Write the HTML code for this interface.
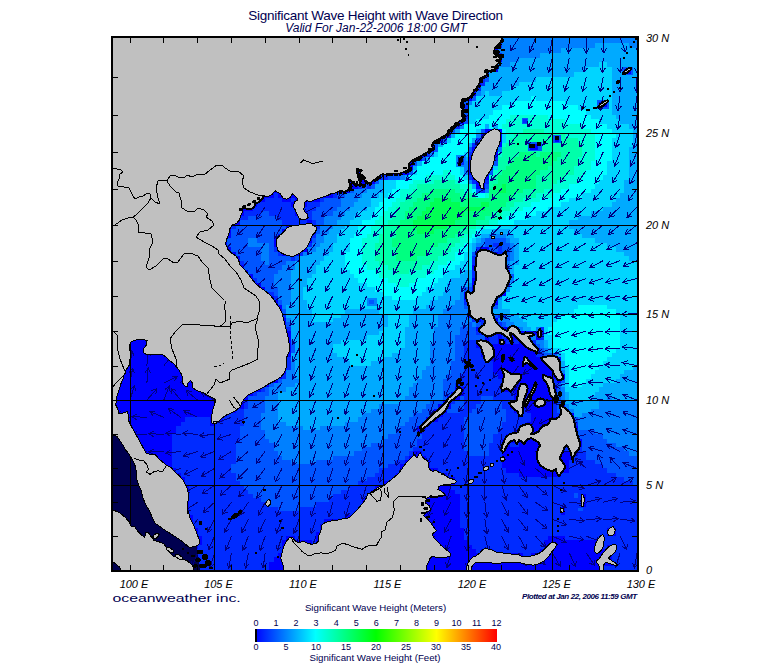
<!DOCTYPE html><html><head><meta charset="utf-8"><title>Significant Wave Height</title>
<style>html,body{margin:0;padding:0;background:#fff}svg{display:block}text{font-family:"Liberation Sans",sans-serif}</style></head><body>
<svg width="775" height="665" viewBox="0 0 775 665">
<rect width="775" height="665" fill="#fff"/>
<defs><clipPath id="mc"><rect x="113" y="38" width="524" height="532"/></clipPath></defs>
<g clip-path="url(#mc)" shape-rendering="crispEdges">
<rect x="113" y="38" width="524" height="532" fill="#0055ff"/>
<path d="M117,566h76v4h-76zM269,566h334v4h-334zM113,562h80v4h-80zM269,562h347v4h-347zM113,557h72v5h-72zM274,557h338v5h-338zM113,553h59v4h-59zM278,553h245v4h-245zM531,553h81v4h-81zM113,549h55v4h-55zM282,549h194v4h-194zM481,549h12v4h-12zM540,549h76v4h-76zM113,545h55v4h-55zM185,545h13v4h-13zM282,545h190v4h-190zM544,545h59v4h-59zM607,545h9v4h-9zM113,540h51v5h-51zM181,540h21v5h-21zM282,540h30v5h-30zM316,540h152v5h-152zM544,540h59v5h-59zM113,536h42v4h-42zM176,536h26v4h-26zM286,536h9v4h-9zM316,536h148v4h-148zM548,536h17v4h-17zM599,536h4v4h-4zM113,532h38v4h-38zM168,532h30v4h-30zM316,532h148v4h-148zM607,532h9v4h-9zM113,528h25v4h-25zM164,528h34v4h-34zM320,528h144v4h-144zM607,528h9v4h-9zM113,524h30v4h-30zM155,524h38v4h-38zM320,524h140v4h-140zM113,519h30v5h-30zM151,519h42v5h-42zM324,519h136v5h-136zM113,515h30v4h-30zM151,515h42v4h-42zM345,515h115v4h-115zM113,511h30v4h-30zM147,511h42v4h-42zM354,511h106v4h-106zM561,511h4v4h-4zM113,507h30v4h-30zM147,507h42v4h-42zM358,507h102v4h-102zM561,507h4v4h-4zM113,502h76v5h-76zM362,502h98v5h-98zM582,502h4v5h-4zM113,498h76v4h-76zM362,498h98v4h-98zM582,498h4v4h-4zM113,494h76v4h-76zM367,494h93v4h-93zM582,494h4v4h-4zM113,490h76v4h-76zM371,490h84v4h-84zM113,485h76v5h-76zM375,485h76v5h-76zM113,481h72v4h-72zM384,481h71v4h-71zM113,477h72v4h-72zM392,477h63v4h-63zM113,473h68v4h-68zM396,473h51v4h-51zM519,473h42v4h-42zM113,468h63v5h-63zM400,468h38v5h-38zM506,468h63v5h-63zM113,464h59v4h-59zM400,464h30v4h-30zM502,464h67v4h-67zM113,460h59v4h-59zM405,460h25v4h-25zM502,460h67v4h-67zM113,456h59v4h-59zM409,456h17v4h-17zM502,456h72v4h-72zM113,451h59v5h-59zM413,451h9v5h-9zM502,451h76v5h-76zM113,447h59v4h-59zM502,447h63v4h-63zM569,447h9v4h-9zM113,443h59v4h-59zM502,443h8v4h-8zM519,443h63v4h-63zM113,439h59v4h-59zM502,439h80v4h-80zM113,434h59v5h-59zM506,434h72v5h-72zM113,430h63v4h-63zM417,430h5v4h-5zM514,430h64v4h-64zM113,426h63v4h-63zM417,426h9v4h-9zM519,426h59v4h-59zM113,422h68v4h-68zM210,422h4v4h-4zM422,422h8v4h-8zM527,422h47v4h-47zM113,417h72v5h-72zM210,417h13v5h-13zM426,417h12v5h-12zM531,417h43v5h-43zM113,413h114v4h-114zM430,413h13v4h-13zM519,413h4v4h-4zM531,413h21v4h-21zM561,413h13v4h-13zM113,409h123v4h-123zM434,409h13v4h-13zM514,409h9v4h-9zM527,409h25v4h-25zM561,409h8v4h-8zM113,404h131v5h-131zM438,404h13v5h-13zM510,404h42v5h-42zM561,404h4v5h-4zM113,400h131v4h-131zM443,400h8v4h-8zM510,400h47v4h-47zM113,396h135v4h-135zM447,396h13v4h-13zM514,396h43v4h-43zM113,392h140v4h-140zM451,392h13v4h-13zM514,392h43v4h-43zM113,387h148v5h-148zM455,387h9v5h-9zM502,387h55v5h-55zM113,383h156v4h-156zM502,383h50v4h-50zM113,379h165v4h-165zM502,379h50v4h-50zM557,379h4v4h-4zM113,374h169v5h-169zM498,374h67v5h-67zM113,370h173v4h-173zM493,370h68v4h-68zM113,366h173v4h-173zM493,366h68v4h-68zM113,361h173v5h-173zM493,361h68v5h-68zM113,357h173v4h-173zM485,357h76v4h-76zM113,353h178v4h-178zM481,353h55v4h-55zM113,348h178v5h-178zM481,348h59v5h-59zM113,344h178v4h-178zM476,344h60v4h-60zM113,340h178v4h-178zM476,340h13v4h-13zM498,340h8v4h-8zM510,340h4v4h-4zM519,340h12v4h-12zM113,335h178v5h-178zM485,335h4v5h-4zM498,335h4v5h-4zM506,335h25v5h-25zM536,335h4v5h-4zM113,331h178v4h-178zM481,331h63v4h-63zM113,327h173v4h-173zM476,327h43v4h-43zM113,322h173v5h-173zM485,322h13v5h-13zM113,318h173v4h-173zM476,318h5v4h-5zM485,318h13v4h-13zM113,314h169v4h-169zM468,314h25v4h-25zM113,309h169v5h-169zM468,309h25v5h-25zM113,305h169v4h-169zM468,305h25v4h-25zM113,300h165v5h-165zM468,300h30v5h-30zM113,296h161v4h-161zM464,296h34v4h-34zM113,292h156v4h-156zM464,292h42v4h-42zM113,287h152v5h-152zM472,287h34v5h-34zM113,283h148v4h-148zM472,283h34v4h-34zM113,278h140v5h-140zM472,278h38v5h-38zM113,274h140v4h-140zM476,274h34v4h-34zM113,270h135v4h-135zM476,270h34v4h-34zM113,265h131v5h-131zM472,265h34v5h-34zM113,261h127v4h-127zM476,261h30v4h-30zM113,256h127v5h-127zM476,256h30v5h-30zM113,252h123v4h-123zM282,252h17v4h-17zM476,252h22v4h-22zM502,252h4v4h-4zM113,247h118v5h-118zM278,247h29v5h-29zM481,247h8v5h-8zM113,243h114v4h-114zM274,243h33v4h-33zM113,238h114v5h-114zM274,238h38v5h-38zM113,234h118v4h-118zM278,234h34v4h-34zM113,229h118v5h-118zM282,229h34v5h-34zM113,225h118v4h-118zM286,225h30v4h-30zM113,220h127v5h-127zM307,220h5v5h-5zM113,216h127v4h-127zM299,216h8v4h-8zM113,211h131v5h-131zM295,211h12v5h-12zM113,207h140v4h-140zM295,207h8v4h-8zM113,202h144v5h-144zM291,202h16v5h-16zM113,198h152v4h-152zM282,198h9v4h-9zM295,198h25v4h-25zM113,193h161v5h-161zM278,193h55v5h-55zM113,189h237v4h-237zM113,184h245v5h-245zM476,184h9v5h-9zM113,180h262v4h-262zM476,180h9v4h-9zM113,175h266v5h-266zM472,175h17v5h-17zM113,170h296v5h-296zM468,170h21v5h-21zM113,166h300v4h-300zM468,166h25v4h-25zM113,161h300v5h-300zM468,161h25v5h-25zM113,157h309v4h-309zM468,157h25v4h-25zM113,152h313v5h-313zM472,152h26v5h-26zM113,147h321v5h-321zM472,147h26v5h-26zM113,143h321v4h-321zM476,143h26v4h-26zM113,138h330v5h-330zM481,138h21v5h-21zM113,133h334v5h-334zM481,133h21v5h-21zM113,129h338v4h-338zM485,129h17v4h-17zM113,124h342v5h-342zM113,119h351v5h-351zM113,115h351v4h-351zM113,110h351v5h-351zM113,105h351v5h-351zM113,101h351v4h-351zM113,96h359v5h-359zM113,91h363v5h-363zM113,86h363v5h-363zM113,82h368v4h-368zM113,77h368v5h-368zM113,72h376v5h-376zM113,67h385v5h-385zM113,62h385v5h-385zM113,58h389v4h-389zM113,53h385v5h-385zM113,48h385v5h-385zM113,43h385v5h-385zM113,38h389v5h-389z" fill="#0000ff"/>
<path d="M113,566h4v4h-4zM193,566h76v4h-76zM603,566h34v4h-34zM193,562h76v4h-76zM616,562h21v4h-21zM185,557h89v5h-89zM612,557h25v5h-25zM172,553h106v4h-106zM523,553h8v4h-8zM612,553h25v4h-25zM168,549h114v4h-114zM476,549h5v4h-5zM493,549h47v4h-47zM616,549h21v4h-21zM168,545h17v4h-17zM198,545h84v4h-84zM472,545h72v4h-72zM603,545h4v4h-4zM616,545h21v4h-21zM164,540h17v5h-17zM202,540h80v5h-80zM312,540h4v5h-4zM468,540h76v5h-76zM603,540h34v5h-34zM155,536h21v4h-21zM202,536h84v4h-84zM295,536h21v4h-21zM464,536h84v4h-84zM565,536h34v4h-34zM603,536h34v4h-34zM151,532h17v4h-17zM198,532h118v4h-118zM464,532h143v4h-143zM616,532h21v4h-21zM138,528h26v4h-26zM198,528h122v4h-122zM464,528h143v4h-143zM616,528h21v4h-21zM143,524h12v4h-12zM193,524h127v4h-127zM460,524h177v4h-177zM143,519h8v5h-8zM193,519h131v5h-131zM460,519h177v5h-177zM143,515h8v4h-8zM193,515h152v4h-152zM460,515h177v4h-177zM143,511h4v4h-4zM189,511h165v4h-165zM460,511h101v4h-101zM565,511h72v4h-72zM143,507h4v4h-4zM189,507h89v4h-89zM299,507h59v4h-59zM460,507h101v4h-101zM565,507h72v4h-72zM189,502h80v5h-80zM316,502h46v5h-46zM460,502h122v5h-122zM586,502h51v5h-51zM189,498h72v4h-72zM329,498h33v4h-33zM460,498h122v4h-122zM586,498h51v4h-51zM189,494h64v4h-64zM333,494h34v4h-34zM460,494h122v4h-122zM586,494h51v4h-51zM189,490h59v4h-59zM341,490h30v4h-30zM455,490h182v4h-182zM189,485h55v5h-55zM350,485h25v5h-25zM451,485h186v5h-186zM185,481h55v4h-55zM358,481h26v4h-26zM455,481h178v4h-178zM185,477h51v4h-51zM367,477h25v4h-25zM455,477h169v4h-169zM181,473h55v4h-55zM375,473h21v4h-21zM447,473h72v4h-72zM561,473h55v4h-55zM176,468h55v5h-55zM379,468h21v5h-21zM438,468h68v5h-68zM569,468h38v5h-38zM172,464h59v4h-59zM388,464h12v4h-12zM430,464h72v4h-72zM569,464h34v4h-34zM172,460h64v4h-64zM396,460h9v4h-9zM430,460h72v4h-72zM569,460h26v4h-26zM172,456h64v4h-64zM405,456h4v4h-4zM426,456h76v4h-76zM574,456h12v4h-12zM172,451h64v5h-64zM409,451h4v5h-4zM422,451h46v5h-46zM489,451h13v5h-13zM578,451h8v5h-8zM172,447h64v4h-64zM413,447h51v4h-51zM489,447h13v4h-13zM565,447h4v4h-4zM578,447h4v4h-4zM172,443h64v4h-64zM417,443h47v4h-47zM489,443h13v4h-13zM510,443h9v4h-9zM172,439h68v4h-68zM417,439h47v4h-47zM493,439h9v4h-9zM172,434h68v5h-68zM422,434h42v5h-42zM493,434h13v5h-13zM176,430h64v4h-64zM422,430h42v4h-42zM498,430h16v4h-16zM176,426h64v4h-64zM426,426h38v4h-38zM502,426h17v4h-17zM181,422h29v4h-29zM214,422h30v4h-30zM430,422h34v4h-34zM502,422h25v4h-25zM574,422h4v4h-4zM185,417h25v5h-25zM223,417h21v5h-21zM438,417h26v5h-26zM506,417h25v5h-25zM227,413h17v4h-17zM443,413h25v4h-25zM506,413h13v4h-13zM523,413h8v4h-8zM552,413h9v4h-9zM236,409h8v4h-8zM460,409h12v4h-12zM506,409h8v4h-8zM523,409h4v4h-4zM552,409h5v4h-5zM244,404h4v5h-4zM464,404h12v5h-12zM502,404h8v5h-8zM552,404h5v5h-5zM244,400h4v4h-4zM451,400h4v4h-4zM464,400h17v4h-17zM502,400h8v4h-8zM464,396h17v4h-17zM493,396h21v4h-21zM253,392h4v4h-4zM464,392h50v4h-50zM261,387h4v5h-4zM464,387h38v5h-38zM455,383h47v4h-47zM552,383h5v4h-5zM460,379h42v4h-42zM552,379h5v4h-5zM282,374h4v5h-4zM460,374h38v5h-38zM464,370h29v4h-29zM286,366h5v4h-5zM464,366h29v4h-29zM286,361h5v5h-5zM464,361h29v5h-29zM286,357h5v4h-5zM464,357h21v4h-21zM464,353h17v4h-17zM536,353h8v4h-8zM464,348h17v5h-17zM464,344h12v4h-12zM468,340h8v4h-8zM489,340h9v4h-9zM506,340h4v4h-4zM514,340h5v4h-5zM531,340h5v4h-5zM489,335h9v5h-9zM502,335h4v5h-4zM540,335h4v5h-4zM476,331h5v4h-5zM286,327h5v4h-5zM540,327h4v4h-4zM481,322h4v5h-4zM498,322h4v5h-4zM472,318h4v4h-4zM481,318h4v4h-4zM282,314h4v4h-4zM498,314h8v4h-8zM464,300h4v5h-4zM274,296h4v4h-4zM269,292h5v4h-5zM506,283h4v4h-4zM253,278h4v5h-4zM472,274h4v4h-4zM472,270h4v4h-4zM240,261h4v4h-4zM472,261h4v4h-4zM291,256h4v5h-4zM472,256h4v5h-4zM278,252h4v4h-4zM299,252h4v4h-4zM498,252h4v4h-4zM274,247h4v5h-4zM476,247h5v5h-5zM498,247h4v5h-4zM307,243h5v4h-5zM493,243h9v4h-9zM312,234h4v4h-4zM231,225h5v4h-5zM316,225h4v4h-4zM282,220h25v5h-25zM312,220h4v5h-4zM240,216h8v4h-8zM278,216h21v4h-21zM307,216h5v4h-5zM244,211h17v5h-17zM269,211h26v5h-26zM307,211h5v5h-5zM253,207h42v4h-42zM303,207h13v4h-13zM257,202h34v5h-34zM307,202h13v5h-13zM265,198h17v4h-17zM291,198h4v4h-4zM320,198h4v4h-4zM274,193h4v5h-4zM333,193h4v5h-4zM481,189h4v4h-4zM358,184h4v5h-4zM367,184h4v5h-4zM472,180h4v4h-4zM485,180h4v4h-4zM379,175h9v5h-9zM468,175h4v5h-4zM493,157h5v4h-5zM426,152h4v5h-4zM468,152h4v5h-4zM472,143h4v4h-4zM476,138h5v5h-5zM447,133h4v5h-4zM455,124h5v5h-5zM464,115h4v4h-4zM464,105h4v5h-4zM476,86h5v5h-5zM481,82h4v4h-4zM481,77h4v5h-4zM498,53h4v5h-4zM498,43h4v5h-4z" fill="#002bff"/>
<path d="M278,507h21v4h-21zM269,502h47v5h-47zM261,498h68v4h-68zM253,494h80v4h-80zM248,490h93v4h-93zM244,485h106v5h-106zM240,481h118v4h-118zM633,481h4v4h-4zM236,477h131v4h-131zM624,477h13v4h-13zM236,473h139v4h-139zM616,473h21v4h-21zM231,468h148v5h-148zM607,468h30v5h-30zM231,464h157v4h-157zM603,464h34v4h-34zM236,460h55v4h-55zM316,460h80v4h-80zM595,460h42v4h-42zM236,456h46v4h-46zM333,456h72v4h-72zM586,456h51v4h-51zM236,451h42v5h-42zM354,451h55v5h-55zM468,451h21v5h-21zM586,451h43v5h-43zM236,447h38v4h-38zM362,447h51v4h-51zM464,447h25v4h-25zM582,447h42v4h-42zM236,443h38v4h-38zM371,443h46v4h-46zM464,443h25v4h-25zM582,443h34v4h-34zM240,439h29v4h-29zM384,439h33v4h-33zM464,439h29v4h-29zM582,439h25v4h-25zM240,434h25v5h-25zM388,434h34v5h-34zM464,434h29v5h-29zM578,434h25v5h-25zM240,430h25v4h-25zM396,430h21v4h-21zM464,430h34v4h-34zM578,430h17v4h-17zM240,426h21v4h-21zM400,426h17v4h-17zM464,426h38v4h-38zM244,422h17v4h-17zM405,422h17v4h-17zM464,422h38v4h-38zM244,417h17v5h-17zM409,417h17v5h-17zM464,417h42v5h-42zM574,417h4v5h-4zM244,413h17v4h-17zM413,413h17v4h-17zM468,413h38v4h-38zM244,409h21v4h-21zM422,409h12v4h-12zM447,409h13v4h-13zM472,409h34v4h-34zM557,409h4v4h-4zM248,404h17v5h-17zM426,404h12v5h-12zM451,404h13v5h-13zM476,404h26v5h-26zM557,404h4v5h-4zM248,400h17v4h-17zM430,400h13v4h-13zM455,400h9v4h-9zM481,400h21v4h-21zM557,400h4v4h-4zM248,396h17v4h-17zM443,396h4v4h-4zM460,396h4v4h-4zM481,396h12v4h-12zM557,396h4v4h-4zM257,392h12v4h-12zM443,392h8v4h-8zM557,392h4v4h-4zM265,387h4v5h-4zM443,387h12v5h-12zM557,387h4v5h-4zM269,383h5v4h-5zM443,383h12v4h-12zM557,383h4v4h-4zM278,379h4v4h-4zM443,379h17v4h-17zM561,379h4v4h-4zM447,374h13v5h-13zM451,370h13v4h-13zM451,366h13v4h-13zM451,361h13v5h-13zM455,357h9v4h-9zM455,353h9v4h-9zM544,353h13v4h-13zM291,348h4v5h-4zM455,348h9v5h-9zM540,348h4v5h-4zM291,344h4v4h-4zM455,344h9v4h-9zM536,344h4v4h-4zM455,340h13v4h-13zM455,335h30v5h-30zM460,331h16v4h-16zM460,327h16v4h-16zM286,322h5v5h-5zM468,322h4v5h-4zM476,322h5v5h-5zM502,322h4v5h-4zM493,314h5v4h-5zM282,309h4v5h-4zM464,305h4v4h-4zM493,305h5v4h-5zM278,300h4v5h-4zM274,292h4v4h-4zM265,287h13v5h-13zM464,287h8v5h-8zM261,283h13v4h-13zM257,278h17v5h-17zM253,274h21v4h-21zM510,274h4v4h-4zM248,270h30v4h-30zM244,265h38v5h-38zM244,261h21v4h-21zM269,261h17v4h-17zM240,256h21v5h-21zM269,256h22v5h-22zM295,256h4v5h-4zM506,256h4v5h-4zM236,252h25v4h-25zM269,252h9v4h-9zM472,252h4v4h-4zM506,252h4v4h-4zM231,247h30v5h-30zM269,247h5v5h-5zM489,247h9v5h-9zM502,247h8v5h-8zM227,243h21v4h-21zM269,243h5v4h-5zM485,243h8v4h-8zM502,243h8v4h-8zM227,238h21v5h-21zM257,238h17v5h-17zM312,238h4v5h-4zM485,238h21v5h-21zM231,234h47v4h-47zM231,229h51v5h-51zM316,229h4v5h-4zM236,225h50v4h-50zM240,220h42v5h-42zM316,220h8v5h-8zM248,216h30v4h-30zM312,216h12v4h-12zM261,211h8v5h-8zM312,211h21v5h-21zM316,207h21v4h-21zM320,202h21v5h-21zM324,198h17v4h-17zM337,193h8v5h-8zM350,189h4v4h-4zM476,189h5v4h-5zM362,184h5v5h-5zM371,184h4v5h-4zM485,184h4v5h-4zM375,180h4v4h-4zM388,175h12v5h-12zM409,170h4v5h-4zM489,170h4v5h-4zM413,161h4v5h-4zM493,161h5v5h-5zM422,157h4v4h-4zM434,147h4v5h-4zM468,147h4v5h-4zM434,143h4v4h-4zM443,138h4v5h-4zM451,129h4v4h-4zM481,129h4v4h-4zM464,119h4v5h-4zM464,110h4v5h-4zM464,101h4v4h-4zM472,96h4v5h-4zM485,77h4v5h-4z" fill="#0055ff"/>
<path d="M291,460h25v4h-25zM282,456h51v4h-51zM278,451h76v5h-76zM629,451h8v5h-8zM274,447h88v4h-88zM624,447h13v4h-13zM274,443h97v4h-97zM616,443h21v4h-21zM269,439h115v4h-115zM607,439h30v4h-30zM265,434h123v5h-123zM603,434h34v5h-34zM265,430h131v4h-131zM595,430h42v4h-42zM261,426h42v4h-42zM320,426h80v4h-80zM578,426h59v4h-59zM261,422h25v4h-25zM345,422h60v4h-60zM578,422h59v4h-59zM261,417h17v5h-17zM358,417h51v5h-51zM578,417h59v5h-59zM261,413h17v4h-17zM362,413h51v4h-51zM582,413h55v4h-55zM265,409h13v4h-13zM371,409h51v4h-51zM569,409h5v4h-5zM591,409h46v4h-46zM265,404h13v5h-13zM379,404h47v5h-47zM565,404h4v5h-4zM599,404h38v5h-38zM265,400h13v4h-13zM400,400h30v4h-30zM561,400h4v4h-4zM599,400h38v4h-38zM265,396h13v4h-13zM405,396h38v4h-38zM561,396h4v4h-4zM607,396h5v4h-5zM269,392h9v4h-9zM409,392h34v4h-34zM561,392h4v4h-4zM269,387h17v5h-17zM409,387h34v5h-34zM561,387h4v5h-4zM274,383h21v4h-21zM413,383h30v4h-30zM282,379h17v4h-17zM417,379h26v4h-26zM286,374h9v5h-9zM422,374h25v5h-25zM286,370h9v4h-9zM422,370h29v4h-29zM561,370h4v4h-4zM291,366h4v4h-4zM426,366h25v4h-25zM291,361h4v5h-4zM430,361h21v5h-21zM430,357h25v4h-25zM430,353h25v4h-25zM430,348h25v5h-25zM544,348h4v5h-4zM430,344h25v4h-25zM540,344h4v4h-4zM291,340h4v4h-4zM434,340h21v4h-21zM536,340h8v4h-8zM434,335h21v5h-21zM531,335h5v5h-5zM434,331h26v4h-26zM434,327h26v4h-26zM519,327h4v4h-4zM536,327h4v4h-4zM438,322h30v5h-30zM472,322h4v5h-4zM506,322h8v5h-8zM286,318h5v4h-5zM438,318h34v4h-34zM498,318h12v4h-12zM438,314h30v4h-30zM443,309h25v5h-25zM282,305h4v4h-4zM451,305h13v4h-13zM282,300h9v5h-9zM455,300h9v5h-9zM278,296h13v4h-13zM460,296h4v4h-4zM498,296h4v4h-4zM278,292h13v4h-13zM460,292h4v4h-4zM278,287h13v5h-13zM506,287h4v5h-4zM274,283h17v4h-17zM468,283h4v4h-4zM274,278h17v5h-17zM510,278h4v5h-4zM274,274h17v4h-17zM278,270h13v4h-13zM282,265h13v5h-13zM506,265h4v5h-4zM265,261h4v4h-4zM286,261h9v4h-9zM506,261h4v4h-4zM261,256h8v5h-8zM510,256h4v5h-4zM261,252h8v4h-8zM303,252h4v4h-4zM510,252h4v4h-4zM261,247h8v5h-8zM307,247h9v5h-9zM510,247h4v5h-4zM248,243h21v4h-21zM312,243h8v4h-8zM476,243h9v4h-9zM510,243h4v4h-4zM248,238h9v5h-9zM316,238h8v5h-8zM481,238h4v5h-4zM506,238h4v5h-4zM316,234h8v4h-8zM489,234h17v4h-17zM320,229h9v5h-9zM320,225h13v4h-13zM324,220h13v5h-13zM324,216h17v4h-17zM333,211h12v5h-12zM337,207h13v4h-13zM341,202h13v5h-13zM341,198h17v4h-17zM345,193h17v5h-17zM354,189h13v4h-13zM485,189h4v4h-4zM468,180h4v4h-4zM400,175h5v5h-5zM464,170h4v5h-4zM464,166h4v4h-4zM464,161h4v5h-4zM430,152h4v5h-4zM498,147h4v5h-4zM476,133h5v5h-5zM460,124h4v5h-4zM468,101h4v4h-4zM476,91h5v5h-5zM498,62h12v5h-12zM502,58h17v4h-17zM502,53h38v5h-38zM498,48h63v5h-63zM502,43h93v5h-93zM629,43h8v5h-8zM502,38h135v5h-135z" fill="#0080ff"/>
<path d="M303,426h17v4h-17zM286,422h59v4h-59zM278,417h80v5h-80zM278,413h84v4h-84zM574,413h8v4h-8zM278,409h93v4h-93zM574,409h17v4h-17zM278,404h101v5h-101zM569,404h30v5h-30zM278,400h122v4h-122zM565,400h34v4h-34zM278,396h127v4h-127zM565,396h4v4h-4zM591,396h16v4h-16zM612,396h25v4h-25zM278,392h131v4h-131zM565,392h4v4h-4zM595,392h42v4h-42zM286,387h123v5h-123zM599,387h38v5h-38zM295,383h118v4h-118zM561,383h4v4h-4zM603,383h34v4h-34zM299,379h118v4h-118zM616,379h21v4h-21zM295,374h127v5h-127zM620,374h17v5h-17zM295,370h127v4h-127zM624,370h13v4h-13zM295,366h131v4h-131zM561,366h4v4h-4zM633,366h4v4h-4zM295,361h55v5h-55zM371,361h59v5h-59zM561,361h4v5h-4zM291,357h54v4h-54zM384,357h46v4h-46zM291,353h46v4h-46zM392,353h38v4h-38zM557,353h4v4h-4zM295,348h38v5h-38zM400,348h30v5h-30zM548,348h4v5h-4zM295,344h38v4h-38zM405,344h25v4h-25zM544,344h4v4h-4zM295,340h46v4h-46zM405,340h29v4h-29zM544,340h4v4h-4zM291,335h76v5h-76zM405,335h29v5h-29zM291,331h88v4h-88zM405,331h29v4h-29zM291,327h93v4h-93zM405,327h29v4h-29zM523,327h8v4h-8zM291,322h97v5h-97zM409,322h29v5h-29zM514,322h13v5h-13zM291,318h21v4h-21zM333,318h55v4h-55zM409,318h29v4h-29zM510,318h13v4h-13zM286,314h26v4h-26zM341,314h47v4h-47zM409,314h29v4h-29zM506,314h13v4h-13zM286,309h26v5h-26zM345,309h34v5h-34zM413,309h30v5h-30zM493,309h17v5h-17zM286,305h21v4h-21zM426,305h25v4h-25zM498,305h4v4h-4zM291,300h16v5h-16zM430,300h25v5h-25zM498,300h4v5h-4zM291,296h12v4h-12zM438,296h22v4h-22zM291,292h12v4h-12zM443,292h17v4h-17zM291,287h12v5h-12zM447,287h17v5h-17zM291,283h16v4h-16zM447,283h21v4h-21zM291,278h16v5h-16zM451,278h21v5h-21zM291,274h21v4h-21zM460,274h12v4h-12zM291,270h25v4h-25zM464,270h8v4h-8zM510,270h4v4h-4zM295,265h21v5h-21zM510,265h4v5h-4zM295,261h25v4h-25zM510,261h9v4h-9zM299,256h25v5h-25zM514,256h5v5h-5zM629,256h8v5h-8zM307,252h22v4h-22zM514,252h5v4h-5zM624,252h13v4h-13zM316,247h17v5h-17zM472,247h4v5h-4zM514,247h5v5h-5zM616,247h21v5h-21zM320,243h13v4h-13zM472,243h4v4h-4zM514,243h5v4h-5zM607,243h30v4h-30zM324,238h13v5h-13zM476,238h5v5h-5zM510,238h9v5h-9zM595,238h42v5h-42zM324,234h13v4h-13zM481,234h8v4h-8zM506,234h8v4h-8zM582,234h55v4h-55zM329,229h12v5h-12zM493,229h17v5h-17zM574,229h63v5h-63zM333,225h12v4h-12zM569,225h68v4h-68zM337,220h13v5h-13zM569,220h68v5h-68zM341,216h13v4h-13zM578,216h59v4h-59zM345,211h13v5h-13zM591,211h46v5h-46zM350,207h17v4h-17zM603,207h34v4h-34zM354,202h17v5h-17zM612,202h25v5h-25zM358,198h13v4h-13zM616,198h21v4h-21zM362,193h17v5h-17zM620,193h17v5h-17zM367,189h17v4h-17zM624,189h13v4h-13zM375,184h9v5h-9zM472,184h4v5h-4zM624,184h13v5h-13zM379,180h5v4h-5zM624,180h13v4h-13zM405,175h4v5h-4zM629,175h8v5h-8zM629,170h8v5h-8zM413,166h4v4h-4zM629,166h8v4h-8zM417,161h5v5h-5zM629,161h8v5h-8zM426,157h4v4h-4zM464,157h4v4h-4zM629,157h8v4h-8zM629,152h8v5h-8zM629,147h8v5h-8zM438,143h5v4h-5zM468,143h4v4h-4zM633,143h4v4h-4zM472,138h4v5h-4zM633,138h4v5h-4zM451,133h4v5h-4zM633,133h4v5h-4zM455,129h5v4h-5zM633,129h4v4h-4zM485,124h4v5h-4zM493,124h5v5h-5zM629,124h8v5h-8zM620,119h17v5h-17zM616,115h21v4h-21zM612,110h25v5h-25zM612,105h25v5h-25zM612,101h25v4h-25zM612,96h25v5h-25zM481,91h4v5h-4zM489,91h13v5h-13zM612,91h25v5h-25zM481,86h29v5h-29zM612,86h25v5h-25zM485,82h34v4h-34zM612,82h25v4h-25zM489,77h47v5h-47zM612,77h25v5h-25zM489,72h85v5h-85zM612,72h25v5h-25zM498,67h88v5h-88zM612,67h25v5h-25zM510,62h89v5h-89zM607,62h30v5h-30zM519,58h118v4h-118zM540,53h97v5h-97zM561,48h76v5h-76zM595,43h34v5h-34z" fill="#00aaff"/>
<path d="M569,396h22v4h-22zM569,392h26v4h-26zM565,387h34v5h-34zM565,383h4v4h-4zM582,383h21v4h-21zM565,379h4v4h-4zM586,379h30v4h-30zM565,374h4v5h-4zM591,374h29v5h-29zM565,370h4v4h-4zM595,370h29v4h-29zM565,366h4v4h-4zM599,366h34v4h-34zM350,361h21v5h-21zM603,361h34v5h-34zM345,357h39v4h-39zM561,357h4v4h-4zM607,357h30v4h-30zM337,353h55v4h-55zM561,353h4v4h-4zM612,353h25v4h-25zM333,348h67v5h-67zM552,348h9v5h-9zM616,348h21v5h-21zM333,344h72v4h-72zM548,344h4v4h-4zM620,344h17v4h-17zM341,340h64v4h-64zM548,340h4v4h-4zM620,340h17v4h-17zM367,335h38v5h-38zM544,335h8v5h-8zM620,335h17v5h-17zM379,331h26v4h-26zM544,331h4v4h-4zM620,331h17v4h-17zM384,327h21v4h-21zM531,327h5v4h-5zM544,327h4v4h-4zM620,327h17v4h-17zM388,322h21v5h-21zM527,322h25v5h-25zM620,322h17v5h-17zM312,318h21v4h-21zM388,318h21v4h-21zM523,318h34v4h-34zM620,318h17v4h-17zM312,314h29v4h-29zM388,314h21v4h-21zM519,314h42v4h-42zM620,314h17v4h-17zM312,309h33v5h-33zM379,309h34v5h-34zM510,309h64v5h-64zM616,309h21v5h-21zM307,305h119v4h-119zM502,305h76v4h-76zM607,305h30v4h-30zM307,300h123v5h-123zM502,300h135v5h-135zM303,296h89v4h-89zM417,296h21v4h-21zM502,296h135v4h-135zM303,292h81v4h-81zM422,292h21v4h-21zM506,292h131v4h-131zM303,287h72v5h-72zM426,287h21v5h-21zM510,287h127v5h-127zM307,283h60v4h-60zM434,283h13v4h-13zM510,283h127v4h-127zM307,278h51v5h-51zM438,278h13v5h-13zM514,278h123v5h-123zM312,274h42v4h-42zM443,274h17v4h-17zM514,274h123v4h-123zM316,270h34v4h-34zM447,270h17v4h-17zM514,270h123v4h-123zM316,265h29v5h-29zM455,265h17v5h-17zM514,265h123v5h-123zM320,261h25v4h-25zM460,261h12v4h-12zM519,261h118v4h-118zM324,256h21v5h-21zM464,256h8v5h-8zM519,256h110v5h-110zM329,252h16v4h-16zM464,252h8v4h-8zM519,252h105v4h-105zM333,247h17v5h-17zM468,247h4v5h-4zM519,247h97v5h-97zM333,243h17v4h-17zM468,243h4v4h-4zM519,243h88v4h-88zM337,238h13v5h-13zM472,238h4v5h-4zM519,238h76v5h-76zM337,234h17v4h-17zM476,234h5v4h-5zM514,234h68v4h-68zM341,229h17v5h-17zM481,229h12v5h-12zM510,229h64v5h-64zM345,225h13v4h-13zM498,225h71v4h-71zM350,220h12v5h-12zM514,220h55v5h-55zM354,216h17v4h-17zM527,216h51v4h-51zM358,211h17v5h-17zM536,211h55v5h-55zM367,207h8v4h-8zM548,207h55v4h-55zM371,202h8v5h-8zM561,202h51v5h-51zM371,198h13v4h-13zM569,198h47v4h-47zM379,193h9v5h-9zM582,193h38v5h-38zM384,189h8v4h-8zM591,189h33v4h-33zM384,184h12v5h-12zM595,184h29v5h-29zM384,180h12v4h-12zM599,180h25v4h-25zM464,175h4v5h-4zM603,175h26v5h-26zM413,170h4v5h-4zM460,170h4v5h-4zM607,170h22v5h-22zM460,166h4v4h-4zM493,166h5v4h-5zM607,166h22v4h-22zM460,161h4v5h-4zM607,161h22v5h-22zM612,157h17v4h-17zM434,152h4v5h-4zM464,152h4v5h-4zM612,152h17v5h-17zM612,147h17v5h-17zM612,143h21v4h-21zM447,138h4v5h-4zM502,138h4v5h-4zM612,138h21v5h-21zM502,133h4v5h-4zM616,133h17v5h-17zM476,129h5v4h-5zM612,129h21v4h-21zM607,124h22v5h-22zM468,119h8v5h-8zM599,119h21v5h-21zM468,115h21v4h-21zM591,115h25v4h-25zM468,110h25v5h-25zM586,110h26v5h-26zM468,105h34v5h-34zM578,105h34v5h-34zM472,101h42v4h-42zM565,101h47v4h-47zM476,96h55v5h-55zM536,96h76v5h-76zM485,91h4v5h-4zM502,91h110v5h-110zM510,86h102v5h-102zM519,82h93v4h-93zM536,77h76v5h-76zM574,72h38v5h-38zM586,67h26v5h-26zM599,62h8v5h-8z" fill="#00d5ff"/>
<path d="M569,383h13v4h-13zM569,379h17v4h-17zM569,374h22v5h-22zM569,370h26v4h-26zM569,366h30v4h-30zM565,361h38v5h-38zM565,357h42v4h-42zM565,353h47v4h-47zM561,348h55v5h-55zM552,344h68v4h-68zM552,340h68v4h-68zM552,335h68v5h-68zM548,331h72v4h-72zM548,327h72v4h-72zM552,322h68v5h-68zM557,318h63v4h-63zM561,314h59v4h-59zM574,309h42v5h-42zM578,305h29v4h-29zM392,296h25v4h-25zM384,292h38v4h-38zM375,287h51v5h-51zM367,283h29v4h-29zM409,283h25v4h-25zM358,278h30v5h-30zM417,278h21v5h-21zM354,274h25v4h-25zM426,274h17v4h-17zM350,270h25v4h-25zM434,270h13v4h-13zM345,265h22v5h-22zM438,265h17v5h-17zM345,261h17v4h-17zM447,261h13v4h-13zM345,256h17v5h-17zM455,256h9v5h-9zM345,252h17v4h-17zM455,252h9v4h-9zM350,247h12v5h-12zM460,247h8v5h-8zM350,243h12v4h-12zM464,243h4v4h-4zM350,238h12v5h-12zM468,238h4v5h-4zM354,234h13v4h-13zM472,234h4v4h-4zM358,229h13v5h-13zM476,229h5v5h-5zM358,225h13v4h-13zM485,225h13v4h-13zM362,220h13v5h-13zM498,220h16v5h-16zM371,216h8v4h-8zM506,216h21v4h-21zM375,211h9v5h-9zM514,211h22v5h-22zM375,207h13v4h-13zM523,207h25v4h-25zM379,202h13v5h-13zM531,202h30v5h-30zM384,198h12v4h-12zM540,198h29v4h-29zM388,193h12v5h-12zM476,193h9v5h-9zM552,193h30v5h-30zM392,189h8v4h-8zM472,189h4v4h-4zM561,189h30v4h-30zM396,184h13v5h-13zM569,184h26v5h-26zM396,180h17v4h-17zM460,180h8v4h-8zM578,180h21v4h-21zM409,175h17v5h-17zM455,175h9v5h-9zM582,175h21v5h-21zM417,170h26v5h-26zM451,170h9v5h-9zM586,170h21v5h-21zM417,166h43v4h-43zM591,166h16v4h-16zM422,161h38v5h-38zM591,161h16v5h-16zM430,157h34v4h-34zM595,157h17v4h-17zM438,152h26v5h-26zM595,152h17v5h-17zM438,147h30v5h-30zM595,147h17v5h-17zM443,143h25v4h-25zM595,143h17v4h-17zM451,138h21v5h-21zM595,138h17v5h-17zM455,133h21v5h-21zM595,133h21v5h-21zM460,129h16v4h-16zM502,129h4v4h-4zM591,129h21v4h-21zM464,124h21v5h-21zM489,124h4v5h-4zM498,124h4v5h-4zM582,124h25v5h-25zM476,119h30v5h-30zM565,119h34v5h-34zM489,115h21v4h-21zM548,115h43v4h-43zM493,110h93v5h-93zM502,105h76v5h-76zM514,101h51v4h-51zM531,96h5v5h-5z" fill="#00ffff"/>
<path d="M396,283h13v4h-13zM388,278h29v5h-29zM379,274h47v4h-47zM375,270h21v4h-21zM409,270h25v4h-25zM367,265h21v5h-21zM422,265h16v5h-16zM362,261h17v4h-17zM430,261h17v4h-17zM362,256h13v5h-13zM438,256h17v5h-17zM362,252h13v4h-13zM447,252h8v4h-8zM362,247h13v5h-13zM451,247h9v5h-9zM362,243h13v4h-13zM455,243h9v4h-9zM362,238h17v5h-17zM460,238h8v5h-8zM367,234h12v4h-12zM464,234h8v4h-8zM371,229h13v5h-13zM468,229h8v5h-8zM371,225h13v4h-13zM476,225h9v4h-9zM375,220h13v5h-13zM489,220h9v5h-9zM379,216h13v4h-13zM498,216h8v4h-8zM384,211h12v5h-12zM502,211h12v5h-12zM388,207h8v4h-8zM510,207h13v4h-13zM392,202h8v5h-8zM514,202h17v5h-17zM396,198h9v4h-9zM523,198h17v4h-17zM400,193h9v5h-9zM485,193h4v5h-4zM536,193h16v5h-16zM400,189h13v4h-13zM464,189h8v4h-8zM544,189h17v4h-17zM409,184h8v5h-8zM460,184h12v5h-12zM552,184h17v5h-17zM413,180h21v4h-21zM455,180h5v4h-5zM557,180h21v4h-21zM426,175h29v5h-29zM489,175h4v5h-4zM565,175h17v5h-17zM443,170h8v5h-8zM493,170h5v5h-5zM574,170h12v5h-12zM574,166h17v4h-17zM578,161h13v5h-13zM578,157h17v4h-17zM498,152h4v5h-4zM582,152h13v5h-13zM582,147h13v5h-13zM502,143h4v4h-4zM582,143h13v4h-13zM506,138h4v5h-4zM578,138h17v5h-17zM506,133h8v5h-8zM565,133h30v5h-30zM506,129h17v4h-17zM544,129h47v4h-47zM502,124h80v5h-80zM506,119h59v5h-59zM510,115h38v4h-38z" fill="#00ffd5"/>
<path d="M396,270h13v4h-13zM388,265h34v5h-34zM379,261h51v4h-51zM375,256h21v5h-21zM417,256h21v5h-21zM375,252h21v4h-21zM426,252h21v4h-21zM375,247h21v5h-21zM430,247h21v5h-21zM375,243h17v4h-17zM438,243h17v4h-17zM379,238h13v5h-13zM447,238h13v5h-13zM379,234h17v4h-17zM455,234h9v4h-9zM384,229h12v5h-12zM460,229h8v5h-8zM384,225h12v4h-12zM468,225h8v4h-8zM388,220h12v5h-12zM476,220h13v5h-13zM392,216h13v4h-13zM485,216h13v4h-13zM396,211h9v5h-9zM493,211h9v5h-9zM396,207h13v4h-13zM502,207h8v4h-8zM400,202h13v5h-13zM506,202h8v5h-8zM405,198h12v4h-12zM510,198h13v4h-13zM409,193h13v5h-13zM460,193h16v5h-16zM514,193h22v5h-22zM413,189h17v4h-17zM455,189h9v4h-9zM523,189h21v4h-21zM417,184h43v5h-43zM489,184h4v5h-4zM536,184h16v5h-16zM434,180h21v4h-21zM489,180h9v4h-9zM536,180h21v4h-21zM493,175h5v5h-5zM536,175h29v5h-29zM498,170h4v5h-4zM540,170h34v5h-34zM498,166h8v4h-8zM548,166h26v4h-26zM498,161h12v5h-12zM552,161h26v5h-26zM498,157h16v4h-16zM557,157h21v4h-21zM502,152h17v5h-17zM536,152h4v5h-4zM561,152h21v5h-21zM502,147h80v5h-80zM506,143h76v4h-76zM510,138h68v5h-68zM514,133h51v5h-51zM523,129h21v4h-21z" fill="#00ffaa"/>
<path d="M396,256h21v5h-21zM396,252h30v4h-30zM396,247h34v5h-34zM392,243h46v4h-46zM392,238h55v5h-55zM396,234h59v4h-59zM396,229h21v5h-21zM434,229h26v5h-26zM396,225h17v4h-17zM447,225h21v4h-21zM400,220h13v5h-13zM455,220h21v5h-21zM405,216h12v4h-12zM460,216h25v4h-25zM405,211h17v5h-17zM464,211h29v5h-29zM409,207h17v4h-17zM485,207h17v4h-17zM413,202h17v5h-17zM460,202h21v5h-21zM489,202h17v5h-17zM417,198h17v4h-17zM451,198h59v4h-59zM422,193h38v5h-38zM489,193h25v5h-25zM430,189h25v4h-25zM489,189h9v4h-9zM506,189h17v4h-17zM493,184h9v5h-9zM506,184h30v5h-30zM498,180h38v4h-38zM498,175h38v5h-38zM502,170h38v5h-38zM506,166h42v4h-42zM510,161h42v5h-42zM514,157h43v4h-43zM519,152h17v5h-17zM540,152h21v5h-21z" fill="#00ff80"/>
<path d="M417,229h17v5h-17zM413,225h34v4h-34zM413,220h42v5h-42zM417,216h43v4h-43zM422,211h42v5h-42zM426,207h59v4h-59zM430,202h30v5h-30zM481,202h8v5h-8zM434,198h17v4h-17zM498,189h8v4h-8zM502,184h4v5h-4z" fill="#00ff55"/><path d="M100,430 L125,430 L150,470 L165,500 L185,535 L197,546 L201,575 L100,575Z" fill="#000050"/><rect x="597" y="100" width="12" height="9" fill="#0055ff"/>
<rect x="599" y="102" width="8" height="5" fill="#0000ff"/>
<rect x="622" y="67" width="11" height="8" fill="#0055ff"/>
<rect x="624" y="69" width="7" height="5" fill="#0000ff"/>
<rect x="528" y="142" width="14" height="9" fill="#0055ff"/>
<rect x="530" y="144" width="8" height="6" fill="#0000ff"/>
<rect x="553" y="135" width="8" height="8" fill="#0055ff"/>
<rect x="555" y="137" width="4" height="5" fill="#0000ff"/>
<rect x="456" y="155" width="10" height="12" fill="#0080ff"/>
<rect x="458" y="157" width="6" height="8" fill="#002bff"/>
<rect x="522" y="118" width="6" height="6" fill="#0055ff"/>
<rect x="523" y="119" width="4" height="4" fill="#002bff"/>
<rect x="366.5" y="298" width="10" height="8" fill="#0080ff"/>
<rect x="369" y="300" width="5" height="4" fill="#0055ff"/>
<rect x="574" y="493" width="4" height="5" fill="#0055ff"/>
<rect x="578" y="508" width="5" height="3" fill="#0055ff"/>
<path d="M197.6,570.0L193.3,584.4M197.4,580.5L193.3,584.4L192.0,578.9M214.5,570.0L211.9,584.8M215.5,580.5L211.9,584.8L210.0,579.5M231.4,570.0L229.3,584.9M232.8,580.4L229.3,584.9L227.2,579.7M248.3,570.0L246.2,584.9M249.7,580.4L246.2,584.9L244.1,579.7M265.2,570.0L263.6,584.9M266.9,580.4L263.6,584.9L261.4,579.8M282.1,570.0L280.1,584.9M283.5,580.4L280.1,584.9L278.0,579.7M434.2,570.0L431.7,584.8M435.3,580.5L431.7,584.8L429.8,579.6M451.1,570.0L449.5,584.9M452.8,580.4L449.5,584.9L447.3,579.8M484.9,570.0L489.2,584.4M490.5,578.9L489.2,584.4L485.1,580.5M501.8,570.0L508.2,583.5M508.7,578.0L508.2,583.5L503.6,580.4M518.7,570.0L527.0,582.5M526.6,576.9L527.0,582.5L522.0,580.0M535.6,570.0L544.6,582.0M543.9,576.4L544.6,582.0L539.5,579.8M552.5,570.0L560.8,582.5M560.5,576.9L560.8,582.5L555.8,580.0M569.4,570.0L577.4,582.7M577.2,577.1L577.4,582.7L572.4,580.1M586.3,570.0L595.0,582.2M594.5,576.6L595.0,582.2L589.9,579.9M620.1,570.0L618.0,584.9M621.4,580.4L618.0,584.9L615.9,579.7M637.0,570.0L635.5,584.9M638.7,580.4L635.5,584.9L633.2,579.8M197.6,553.1L192.1,567.0M196.5,563.6L192.1,567.0L191.3,561.5M214.5,553.1L210.2,567.5M214.2,563.6L210.2,567.5L208.9,562.0M231.4,553.1L228.8,567.9M232.4,563.6L228.8,567.9L226.9,562.6M248.3,553.1L245.7,567.9M249.3,563.6L245.7,567.9L243.8,562.6M265.2,553.1L263.1,568.0M266.6,563.5L263.1,568.0L261.0,562.8M451.1,553.1L446.8,567.5M450.8,563.6L446.8,567.5L445.5,562.0M468.0,553.1L468.0,568.1M470.8,563.2L468.0,568.1L465.2,563.3M518.7,553.1L526.6,565.8M526.4,560.2L526.6,565.8L521.7,563.2M535.6,553.1L545.1,564.7M544.2,559.2L545.1,564.7L539.8,562.7M552.5,553.1L560.0,566.1M560.0,560.5L560.0,566.1L555.2,563.3M569.4,553.1L575.7,566.7M576.2,561.1L575.7,566.7L571.2,563.5M586.3,553.1L594.7,565.5M594.3,559.9L594.7,565.5L589.7,563.1M620.1,553.1L615.5,567.4M619.6,563.6L615.5,567.4L614.3,561.9M637.0,553.1L634.4,567.9M638.0,563.6L634.4,567.9L632.5,562.6M214.5,536.2L208.4,549.9M212.9,546.6L208.4,549.9L207.8,544.3M231.4,536.2L225.8,550.1M230.2,546.7L225.8,550.1L225.0,544.6M248.3,536.2L242.9,550.2M247.3,546.7L242.9,550.2L242.0,544.7M265.2,536.2L260.1,550.3M264.4,546.7L260.1,550.3L259.1,544.8M282.1,536.2L277.4,550.4M281.6,546.7L277.4,550.4L276.3,545.0M299.0,536.2L294.0,550.3M298.3,546.7L294.0,550.3L293.0,544.8M315.9,536.2L310.9,550.3M315.1,546.7L310.9,550.3L309.9,544.8M434.2,536.2L429.2,550.3M433.5,546.7L429.2,550.3L428.2,544.8M451.1,536.2L446.0,550.3M450.3,546.7L446.0,550.3L445.0,544.8M468.0,536.2L467.1,551.2M470.2,546.5L467.1,551.2L464.6,546.2M484.9,536.2L488.5,550.7M490.1,545.4L488.5,550.7L484.6,546.7M501.8,536.2L508.4,549.7M508.8,544.1L508.4,549.7L503.7,546.5M518.7,536.2L526.0,549.3M526.1,543.7L526.0,549.3L521.2,546.4M535.6,536.2L545.6,547.3M544.5,541.9L545.6,547.3L540.3,545.6M552.5,536.2L566.2,542.3M562.9,537.8L566.2,542.3L560.6,542.9M569.4,536.2L584.0,539.8M579.9,535.9L584.0,539.8L578.6,541.4M586.3,536.2L600.4,541.3M596.8,537.0L600.4,541.3L594.9,542.3M620.1,536.2L626.9,549.6M627.2,544.0L626.9,549.6L622.2,546.5M637.0,536.2L644.5,549.2M644.5,543.6L644.5,549.2L639.7,546.4M197.6,519.3L188.9,531.5M194.0,529.2L188.9,531.5L189.4,525.9M214.5,519.3L207.4,532.5M212.1,529.5L207.4,532.5L207.2,526.9M231.4,519.3L224.1,532.4M228.9,529.5L224.1,532.4L224.0,526.8M248.3,519.3L241.5,532.6M246.2,529.6L241.5,532.6L241.2,527.1M265.2,519.3L259.0,532.9M263.6,529.7L259.0,532.9L258.5,527.4M282.1,519.3L276.4,533.1M280.8,529.7L276.4,533.1L275.6,527.6M299.0,519.3L293.8,533.4M298.1,529.8L293.8,533.4L292.9,527.8M315.9,519.3L311.1,533.5M315.3,529.8L311.1,533.5L310.0,528.0M332.8,519.3L328.7,533.7M332.7,529.8L328.7,533.7L327.4,528.3M434.2,519.3L428.3,533.1M432.8,529.7L428.3,533.1L427.7,527.5M451.1,519.3L444.3,532.6M449.0,529.6L444.3,532.6L444.0,527.0M468.0,519.3L466.4,534.2M469.7,529.7L466.4,534.2L464.2,529.1M484.9,519.3L487.0,534.1M489.1,528.9L487.0,534.1L483.5,529.7M501.8,519.3L508.6,532.6M508.9,527.0L508.6,532.6L503.9,529.6M518.7,519.3L527.9,531.1M527.2,525.6L527.9,531.1L522.7,529.0M535.6,519.3L547.1,528.9M545.2,523.7L547.1,528.9L541.6,527.9M552.5,519.3L566.4,524.9M563.0,520.5L566.4,524.9L560.9,525.7M569.4,519.3L584.3,520.8M579.8,517.6L584.3,520.8L579.2,523.1M586.3,519.3L601.3,518.8M596.3,516.1L601.3,518.8L596.5,521.7M603.2,519.3L618.2,518.8M613.2,516.1L618.2,518.8L613.4,521.7M620.1,519.3L635.0,520.8M630.5,517.6L635.0,520.8L629.9,523.1M637.0,519.3L651.9,521.4M647.4,517.9L651.9,521.4L646.7,523.5M197.6,502.3L185.0,510.4M190.6,510.2L185.0,510.4L187.5,505.5M214.5,502.3L203.4,512.5M208.9,511.3L203.4,512.5L205.1,507.1M231.4,502.3L222.2,514.2M227.4,512.1L222.2,514.2L222.9,508.6M248.3,502.3L239.9,514.8M244.9,512.3L239.9,514.8L240.3,509.2M265.2,502.3L258.2,515.6M262.9,512.6L258.2,515.6L258.0,510.0M282.1,502.3L276.5,516.3M280.9,512.8L276.5,516.3L275.7,510.7M299.0,502.3L294.1,516.5M298.3,512.9L294.1,516.5L293.0,511.0M315.9,502.3L311.3,516.6M315.5,512.9L311.3,516.6L310.1,511.2M332.8,502.3L328.9,516.8M332.9,512.9L328.9,516.8L327.5,511.4M349.7,502.3L345.6,516.8M349.7,512.9L345.6,516.8L344.3,511.4M434.2,502.3L428.2,516.1M432.7,512.8L428.2,516.1L427.6,510.5M451.1,502.3L444.1,515.6M448.8,512.6L444.1,515.6L443.9,510.0M468.0,502.3L466.7,517.3M469.9,512.7L466.7,517.3L464.3,512.2M484.9,502.3L486.7,517.2M488.9,512.1L486.7,517.2L483.4,512.8M501.8,502.3L508.4,515.8M508.8,510.2L508.4,515.8L503.7,512.7M518.7,502.3L527.7,514.3M527.0,508.8L527.7,514.3L522.6,512.1M535.6,502.3L547.9,510.9M545.5,505.9L547.9,510.9L542.3,510.5M552.5,502.3L566.6,507.5M563.0,503.2L566.6,507.5L561.1,508.4M569.4,502.3L584.3,503.7M579.8,500.4L584.3,503.7L579.3,506.0M586.3,502.3L600.8,498.5M595.4,497.0L600.8,498.5L596.8,502.4M603.2,502.3L617.7,498.5M612.3,497.0L617.7,498.5L613.7,502.4M620.1,502.3L635.0,500.8M629.9,498.5L635.0,500.8L630.5,504.1M637.0,502.3L652.0,501.8M647.0,499.2L652.0,501.8L647.2,504.8M197.6,485.4L184.6,492.9M190.2,492.9L184.6,492.9L187.4,488.0M214.5,485.4L202.1,493.8M207.7,493.4L202.1,493.8L204.5,488.7M231.4,485.4L220.3,495.4M225.7,494.3L220.3,495.4L222.0,490.1M248.3,485.4L238.7,496.9M243.9,495.0L238.7,496.9L239.6,491.4M265.2,485.4L256.9,497.9M261.9,495.4L256.9,497.9L257.3,492.3M282.1,485.4L275.3,498.8M280.0,495.7L275.3,498.8L275.0,493.2M299.0,485.4L293.4,499.3M297.8,495.9L293.4,499.3L292.6,493.8M315.9,485.4L311.0,499.6M315.3,495.9L311.0,499.6L310.0,494.1M332.8,485.4L328.5,499.8M332.6,495.9L328.5,499.8L327.2,494.3M349.7,485.4L345.1,499.7M349.3,495.9L345.1,499.7L344.0,494.2M366.6,485.4L362.2,499.7M366.3,495.9L362.2,499.7L360.9,494.3M383.5,485.4L379.3,499.8M383.4,495.9L379.3,499.8L378.0,494.4M451.1,485.4L447.0,499.8M451.0,495.9L447.0,499.8L445.6,494.4M468.0,485.4L466.4,500.3M469.7,495.8L466.4,500.3L464.2,495.2M484.9,485.4L484.1,500.4M487.2,495.7L484.1,500.4L481.6,495.4M501.8,485.4L506.2,499.7M507.4,494.3L506.2,499.7L502.1,495.9M518.7,485.4L527.3,497.7M526.8,492.1L527.3,497.7L522.2,495.3M535.6,485.4L547.1,495.0M545.2,489.8L547.1,495.0L541.6,494.1M552.5,485.4L566.1,491.7M562.9,487.1L566.1,491.7L560.5,492.2M569.4,485.4L584.1,488.3M579.9,484.6L584.1,488.3L578.8,490.1M586.3,485.4L600.6,481.0M595.2,479.7L600.6,481.0L596.8,485.1M603.2,485.4L616.2,477.9M610.6,477.9L616.2,477.9L613.4,482.7M620.1,485.4L633.1,477.9M627.5,477.9L633.1,477.9L630.3,482.7M637.0,485.4L650.0,477.9M644.4,477.9L650.0,477.9L647.2,482.7M180.7,468.4L166.6,473.5M172.1,474.5L166.6,473.5L170.2,469.3M197.6,468.4L184.0,474.8M189.6,475.2L184.0,474.8L187.2,470.2M214.5,468.4L201.6,476.1M207.2,476.0L201.6,476.1L204.4,471.2M231.4,468.4L219.9,478.1M225.4,477.1L219.9,478.1L221.8,472.8M248.3,468.4L237.7,479.0M243.1,477.6L237.7,479.0L239.1,473.6M265.2,468.4L256.0,480.2M261.2,478.1L256.0,480.2L256.7,474.7M282.1,468.4L275.1,481.7M279.8,478.7L275.1,481.7L274.9,476.1M299.0,468.4L292.8,482.1M297.4,478.8L292.8,482.1L292.3,476.5M315.9,468.4L311.3,482.7M315.4,478.9L311.3,482.7L310.1,477.2M332.8,468.4L328.1,482.7M332.3,478.9L328.1,482.7L327.0,477.2M349.7,468.4L345.1,482.7M349.2,478.9L345.1,482.7L343.9,477.2M366.6,468.4L362.2,482.8M366.3,478.9L362.2,482.8L361.0,477.3M383.5,468.4L379.4,482.8M383.4,478.9L379.4,482.8L378.0,477.4M400.4,468.4L396.2,482.8M400.2,478.9L396.2,482.8L394.9,477.4M434.2,468.4L428.6,482.3M433.0,478.9L428.6,482.3L427.8,476.8M451.1,468.4L445.5,482.3M449.9,478.9L445.5,482.3L444.7,476.8M468.0,468.4L465.9,483.3M469.4,478.9L465.9,483.3L463.8,478.1M484.9,468.4L484.5,483.4M487.4,478.6L484.5,483.4L481.8,478.5M501.8,468.4L504.4,483.2M506.3,477.9L504.4,483.2L500.8,478.9M518.7,468.4L526.2,481.4M526.2,475.8L526.2,481.4L521.4,478.6M535.6,468.4L546.9,478.3M545.1,473.0L546.9,478.3L541.4,477.2M569.4,468.4L582.7,461.5M577.1,461.2L582.7,461.5L579.7,466.2M586.3,468.4L575.2,458.4M576.9,463.7L575.2,458.4L580.6,459.5M603.2,468.4L598.1,454.3M597.1,459.8L598.1,454.3L602.4,457.9M620.1,468.4L609.9,457.4M611.1,462.9L609.9,457.4L615.2,459.1M637.0,468.4L623.1,462.8M626.5,467.2L623.1,462.8L628.6,462.0M146.9,451.4L131.9,451.4M136.8,454.2L131.9,451.4L136.7,448.6M163.8,451.4L148.8,451.9M153.8,454.6L148.8,451.9L153.6,449.0M180.7,451.4L165.8,453.2M171.0,455.4L165.8,453.2L170.3,449.9M197.6,451.4L183.3,456.0M188.8,457.2L183.3,456.0L187.1,451.9M214.5,451.4L200.6,457.0M206.1,457.8L200.6,457.0L204.0,452.6M231.4,451.4L218.7,459.4M224.3,459.2L218.7,459.4L221.3,454.4M248.3,451.4L237.0,461.2M242.5,460.2L237.0,461.2L238.8,456.0M265.2,451.4L256.2,463.4M261.3,461.2L256.2,463.4L256.9,457.8M282.1,451.4L274.6,464.4M279.4,461.6L274.6,464.4L274.6,458.8M299.0,451.4L292.9,465.1M297.4,461.8L292.9,465.1L292.3,459.5M315.9,451.4L311.5,465.7M315.6,461.9L311.5,465.7L310.3,460.3M332.8,451.4L328.2,465.7M332.4,461.9L328.2,465.7L327.0,460.2M349.7,451.4L345.3,465.7M349.4,461.9L345.3,465.7L344.1,460.3M366.6,451.4L362.4,465.8M366.4,461.9L362.4,465.8L361.1,460.4M383.5,451.4L379.6,465.9M383.6,461.9L379.6,465.9L378.2,460.5M400.4,451.4L396.2,465.8M400.3,461.9L396.2,465.8L394.9,460.4M417.3,451.4L410.4,464.7M415.1,461.7L410.4,464.7L410.2,459.1M434.2,451.4L426.3,464.1M431.2,461.5L426.3,464.1L426.5,458.5M451.1,451.4L443.6,464.4M448.4,461.6L443.6,464.4L443.6,458.8M468.0,451.4L463.9,465.8M467.9,461.9L463.9,465.8L462.5,460.4M484.9,451.4L483.1,466.3M486.4,461.8L483.1,466.3L480.9,461.1M518.7,451.4L524.3,465.3M525.1,459.8L524.3,465.3L519.9,461.9M535.6,451.4L543.8,464.0M543.5,458.4L543.8,464.0L538.8,461.4M569.4,451.4L554.4,452.6M559.5,455.0L554.4,452.6L559.1,449.4M586.3,451.4L571.5,454.0M576.8,455.9L571.5,454.0L575.8,450.4M603.2,451.4L588.8,447.3M592.7,451.3L588.8,447.3L594.2,445.9M620.1,451.4L606.7,444.6M609.8,449.3L606.7,444.6L612.3,444.3M637.0,451.4L622.8,446.5M626.5,450.7L622.8,446.5L628.3,445.5M146.9,434.4L131.9,434.4M136.7,437.2L131.9,434.4L136.7,431.6M163.8,434.4L148.8,433.6M153.5,436.6L148.8,433.6L153.8,431.0M180.7,434.4L165.8,433.1M170.3,436.3L165.8,433.1L170.8,430.7M197.6,434.4L182.7,433.1M187.2,436.3L182.7,433.1L187.7,430.7M214.5,434.4L199.6,435.7M204.6,438.0L199.6,435.7L204.1,432.5M231.4,434.4L217.1,439.0M222.6,440.2L217.1,439.0L220.9,434.8M248.3,434.4L236.0,443.0M241.6,442.5L236.0,443.0L238.4,437.9M265.2,434.4L255.2,445.5M260.5,443.8L255.2,445.5L256.3,440.0M282.1,434.4L274.6,447.3M279.4,444.5L274.6,447.3L274.6,441.7M299.0,434.4L293.9,448.5M298.2,444.9L293.9,448.5L292.9,442.9M315.9,434.4L311.0,448.5M315.2,444.9L311.0,448.5L309.9,443.0M332.8,434.4L328.1,448.6M332.3,444.9L328.1,448.6L326.9,443.1M349.7,434.4L345.3,448.7M349.4,444.9L345.3,448.7L344.1,443.3M366.6,434.4L362.5,448.8M366.5,444.9L362.5,448.8L361.1,443.3M383.5,434.4L379.7,448.9M383.7,444.9L379.7,448.9L378.2,443.5M400.4,434.4L396.2,448.8M400.2,444.9L396.2,448.8L394.9,443.3M417.3,434.4L410.6,447.8M415.3,444.7L410.6,447.8L410.3,442.2M434.2,434.4L424.0,445.3M429.3,443.7L424.0,445.3L425.2,439.9M451.1,434.4L443.4,447.2M448.3,444.5L443.4,447.2L443.5,441.6M468.0,434.4L462.6,448.4M467.0,444.8L462.6,448.4L461.7,442.8M484.9,434.4L482.3,449.1M485.9,444.8L482.3,449.1L480.4,443.9M501.8,434.4L499.6,449.2M503.1,444.8L499.6,449.2L497.5,444.0M586.3,434.4L571.8,438.2M577.2,439.7L571.8,438.2L575.8,434.3M603.2,434.4L588.7,430.5M592.7,434.4L588.7,430.5L594.1,429.0M620.1,434.4L606.1,429.0M609.6,433.3L606.1,429.0L611.6,428.1M637.0,434.4L622.7,429.7M626.5,433.9L622.7,429.7L628.2,428.6M130.0,417.3L115.6,413.0M119.5,417.1L115.6,413.0L121.1,411.7M146.9,417.3L131.9,416.7M136.7,419.7L131.9,416.7L136.9,414.1M163.8,417.3L149.9,411.7M153.3,416.1L149.9,411.7L155.4,410.9M180.7,417.3L168.4,408.7M170.8,413.7L168.4,408.7L174.0,409.2M197.6,417.3L184.0,410.9M187.2,415.5L184.0,410.9L189.6,410.4M231.4,417.3L217.4,422.6M222.9,423.5L217.4,422.6L220.9,418.2M248.3,417.3L234.5,423.1M240.1,423.8L234.5,423.1L237.9,418.7M265.2,417.3L253.7,426.9M259.2,425.9L253.7,426.9L255.6,421.7M282.1,417.3L273.5,429.6M278.6,427.2L273.5,429.6L274.0,424.0M299.0,417.3L293.6,431.3M298.0,427.8L293.6,431.3L292.7,425.7M315.9,417.3L311.8,431.7M315.8,427.8L311.8,431.7L310.4,426.3M332.8,417.3L328.3,431.6M332.4,427.8L328.3,431.6L327.1,426.1M349.7,417.3L345.6,431.7M349.6,427.8L345.6,431.7L344.2,426.3M366.6,417.3L362.7,431.7M366.6,427.8L362.7,431.7L361.2,426.3M383.5,417.3L380.1,431.9M383.9,427.8L380.1,431.9L378.5,426.5M400.4,417.3L396.8,431.8M400.7,427.8L396.8,431.8L395.3,426.5M417.3,417.3L413.9,431.9M417.7,427.8L413.9,431.9L412.3,426.5M451.1,417.3L442.5,429.6M447.6,427.2L442.5,429.6L443.0,424.0M468.0,417.3L461.7,430.9M466.2,427.7L461.7,430.9L461.2,425.3M484.9,417.3L480.3,431.5M484.4,427.8L480.3,431.5L479.1,426.1M501.8,417.3L498.9,432.0M502.6,427.8L498.9,432.0L497.1,426.7M518.7,417.3L515.1,431.8M519.0,427.8L515.1,431.8L513.5,426.4M535.6,417.3L529.4,430.9M534.0,427.7L529.4,430.9L528.9,425.4M552.5,417.3L539.0,423.8M544.6,424.2L539.0,423.8L542.1,419.1M586.3,417.3L571.8,421.2M577.2,422.6L571.8,421.2L575.8,417.2M603.2,417.3L588.9,412.9M592.7,417.0L588.9,412.9L594.3,411.6M620.1,417.3L605.9,412.4M609.6,416.6L605.9,412.4L611.4,411.3M637.0,417.3L622.9,412.1M626.5,416.4L622.9,412.1L628.4,411.2M130.0,400.1L134.4,385.8M130.3,389.6L134.4,385.8L135.7,391.3M146.9,400.1L156.7,388.8M151.4,390.6L156.7,388.8L155.7,394.3M163.8,400.1L169.2,386.1M164.8,389.7L169.2,386.1L170.1,391.7M180.7,400.1L171.1,388.6M172.0,394.2L171.1,388.6L176.3,390.6M197.6,400.1L186.1,390.5M188.0,395.8L186.1,390.5L191.6,391.5M214.5,400.1L201.5,392.7M204.3,397.5L201.5,392.7L207.1,392.7M248.3,400.1L235.3,407.7M240.9,407.7L235.3,407.7L238.1,402.8M265.2,400.1L252.3,407.9M257.9,407.8L252.3,407.9L255.1,403.0M282.1,400.1L271.7,410.9M277.1,409.4L271.7,410.9L273.0,405.5M299.0,400.1L292.7,413.7M297.2,410.5L292.7,413.7L292.2,408.2M315.9,400.1L310.8,414.2M315.1,410.6L310.8,414.2L309.8,408.7M332.8,400.1L327.8,414.3M332.1,410.6L327.8,414.3L326.8,408.8M349.7,400.1L345.1,414.4M349.2,410.7L345.1,414.4L343.9,408.9M366.6,400.1L362.4,414.5M366.4,410.7L362.4,414.5L361.1,409.1M383.5,400.1L379.6,414.6M383.6,410.7L379.6,414.6L378.2,409.2M400.4,400.1L397.0,414.7M400.8,410.7L397.0,414.7L395.4,409.4M417.3,400.1L414.7,414.9M418.3,410.6L414.7,414.9L412.8,409.6M434.2,400.1L429.8,414.5M433.9,410.7L429.8,414.5L428.6,409.0M468.0,400.1L458.4,411.6M463.6,409.7L458.4,411.6L459.3,406.1M484.9,400.1L477.9,413.4M482.6,410.4L477.9,413.4L477.7,407.8M501.8,400.1L495.7,413.8M500.2,410.5L495.7,413.8L495.1,408.3M535.6,400.1L525.8,411.5M531.1,409.6L525.8,411.5L526.8,406.0M552.5,400.1L538.3,405.0M543.8,406.1L538.3,405.0L542.0,400.8M569.4,400.1L554.8,403.5M560.2,405.2L554.8,403.5L558.9,399.7M586.3,400.1L571.7,403.8M577.1,405.3L571.7,403.8L575.8,399.9M603.2,400.1L588.4,397.5M592.7,401.1L588.4,397.5L593.7,395.6M620.1,400.1L606.1,394.8M609.6,399.1L606.1,394.8L611.6,393.9M637.0,400.1L623.0,394.8M626.5,399.1L623.0,394.8L628.5,393.9M130.0,382.9L132.6,368.2M129.0,372.5L132.6,368.2L134.5,373.4M146.9,382.9L148.2,368.0M145.0,372.6L148.2,368.0L150.6,373.1M163.8,382.9L177.4,376.6M171.8,376.1L177.4,376.6L174.2,381.2M180.7,382.9L188.2,370.0M183.4,372.8L188.2,370.0L188.2,375.6M282.1,382.9L272.3,394.3M277.6,392.4L272.3,394.3L273.3,388.8M299.0,382.9L292.0,396.2M296.7,393.2L292.0,396.2L291.8,390.6M315.9,382.9L309.9,396.7M314.4,393.4L309.9,396.7L309.3,391.1M332.8,382.9L327.5,397.0M331.8,393.4L327.5,397.0L326.6,391.5M349.7,382.9L344.9,397.2M349.1,393.5L344.9,397.2L343.8,391.7M366.6,382.9L362.2,397.3M366.3,393.5L362.2,397.3L361.0,391.8M383.5,382.9L379.7,397.5M383.6,393.5L379.7,397.5L378.2,392.1M400.4,382.9L397.2,397.6M401.0,393.5L397.2,397.6L395.5,392.3M417.3,382.9L414.9,397.8M418.4,393.4L414.9,397.8L412.9,392.5M434.2,382.9L431.6,397.7M435.2,393.4L431.6,397.7L429.7,392.5M451.1,382.9L445.1,396.7M449.6,393.4L445.1,396.7L444.5,391.1M468.0,382.9L459.9,395.6M464.9,393.0L459.9,395.6L460.2,390.0M484.9,382.9L477.4,395.9M482.2,393.1L477.4,395.9L477.4,390.3M501.8,382.9L495.0,396.3M499.7,393.3L495.0,396.3L494.7,390.7M518.7,382.9L511.3,396.0M516.1,393.2L511.3,396.0L511.3,390.4M569.4,382.9L554.9,386.8M560.3,388.3L554.9,386.8L558.9,382.9M586.3,382.9L571.7,386.6M577.1,388.1L571.7,386.6L575.8,382.7M603.2,382.9L588.2,382.2M592.9,385.2L588.2,382.2L593.2,379.6M620.1,382.9L605.8,378.3M609.6,382.5L605.8,378.3L611.3,377.1M637.0,382.9L623.0,377.6M626.5,381.9L623.0,377.6L628.5,376.7M130.0,365.7L131.9,350.8M128.5,355.3L131.9,350.8L134.1,356.0M146.9,365.7L148.2,350.8M145.0,355.3L148.2,350.8L150.6,355.8M163.8,365.7L173.4,354.2M168.2,356.1L173.4,354.2L172.5,359.7M299.0,365.7L292.3,379.1M297.0,376.0L292.3,379.1L292.0,373.5M315.9,365.7L310.8,379.8M315.1,376.2L310.8,379.8L309.8,374.3M332.8,365.7L327.6,379.8M331.9,376.2L327.6,379.8L326.7,374.3M349.7,365.7L344.8,379.9M349.0,376.2L344.8,379.9L343.7,374.4M366.6,365.7L362.3,380.1M366.3,376.2L362.3,380.1L361.0,374.6M383.5,365.7L379.9,380.3M383.8,376.2L379.9,380.3L378.3,374.9M400.4,365.7L397.6,380.4M401.3,376.2L397.6,380.4L395.8,375.1M417.3,365.7L415.7,380.6M419.0,376.1L415.7,380.6L413.5,375.5M434.2,365.7L432.6,380.6M435.9,376.1L432.6,380.6L430.4,375.5M451.1,365.7L447.7,380.3M451.6,376.2L447.7,380.3L446.1,375.0M468.0,365.7L460.5,378.7M465.4,375.9L460.5,378.7L460.5,373.1M484.9,365.7L475.5,377.4M480.7,375.4L475.5,377.4L476.3,371.8M501.8,365.7L493.0,377.8M498.1,375.6L493.0,377.8L493.6,372.3M518.7,365.7L510.0,377.9M515.1,375.6L510.0,377.9L510.5,372.3M535.6,365.7L523.2,374.1M528.8,373.7L523.2,374.1L525.6,369.1M569.4,365.7L555.0,369.8M560.4,371.2L555.0,369.8L558.9,365.8M586.3,365.7L571.7,369.3M577.1,370.9L571.7,369.3L575.8,365.4M603.2,365.7L588.2,366.7M593.3,369.2L588.2,366.7L592.9,363.6M620.1,365.7L605.1,364.7M609.8,367.8L605.1,364.7L610.2,362.2M637.0,365.7L622.3,362.6M626.5,366.3L622.3,362.6L627.7,360.9M299.0,348.4L292.5,361.9M297.1,358.8L292.5,361.9L292.1,356.3M315.9,348.4L310.2,362.3M314.6,358.8L310.2,362.3L309.5,356.7M332.8,348.4L327.3,362.4M331.7,358.9L327.3,362.4L326.5,356.8M349.7,348.4L344.6,362.5M348.9,358.9L344.6,362.5L343.6,357.0M366.6,348.4L362.0,362.7M366.1,358.9L362.0,362.7L360.8,357.2M383.5,348.4L379.5,362.9M383.5,358.9L379.5,362.9L378.1,357.4M400.4,348.4L397.1,363.0M400.9,358.9L397.1,363.0L395.5,357.7M417.3,348.4L415.2,363.2M418.6,358.8L415.2,363.2L413.1,358.0M434.2,348.4L432.3,363.3M435.7,358.8L432.3,363.3L430.2,358.1M451.1,348.4L447.6,363.0M451.4,358.9L447.6,363.0L446.0,357.6M468.0,348.4L462.1,362.2M466.6,358.8L462.1,362.2L461.5,356.6M501.8,348.4L494.1,361.2M499.0,358.5L494.1,361.2L494.2,355.6M518.7,348.4L509.6,360.3M514.8,358.2L509.6,360.3L510.3,354.7M552.5,348.4L538.3,353.2M543.8,354.3L538.3,353.2L542.0,349.0M569.4,348.4L555.2,353.3M560.7,354.3L555.2,353.3L558.9,349.0M586.3,348.4L571.7,351.8M577.0,353.4L571.7,351.8L575.8,347.9M603.2,348.4L588.3,350.0M593.4,352.2L588.3,350.0L592.8,346.7M620.1,348.4L605.1,348.9M610.1,351.5L605.1,348.9L609.9,345.9M637.0,348.4L622.1,346.8M626.6,350.1L622.1,346.8L627.2,344.5M299.0,331.0L292.4,344.5M297.1,341.4L292.4,344.5L292.0,338.9M315.9,331.0L310.0,344.8M314.5,341.4L310.0,344.8L309.4,339.3M332.8,331.0L327.2,344.9M331.6,341.5L327.2,344.9L326.4,339.4M349.7,331.0L344.6,345.1M348.9,341.5L344.6,345.1L343.6,339.6M366.6,331.0L361.8,345.2M366.0,341.5L361.8,345.2L360.7,339.7M383.5,331.0L379.1,345.4M383.2,341.5L379.1,345.4L377.9,339.9M400.4,331.0L397.3,345.7M401.0,341.5L397.3,345.7L395.6,340.4M417.3,331.0L414.8,345.8M418.4,341.5L414.8,345.8L412.9,340.6M434.2,331.0L432.9,346.0M436.1,341.4L432.9,346.0L430.5,340.9M451.1,331.0L449.8,346.0M453.0,341.4L449.8,346.0L447.4,340.9M468.0,331.0L463.9,345.4M467.9,341.5L463.9,345.4L462.5,340.0M535.6,331.0L521.5,336.0M527.0,337.0L521.5,336.0L525.1,331.7M552.5,331.0L538.3,335.7M543.7,336.8L538.3,335.7L542.0,331.5M569.4,331.0L555.3,336.1M560.8,337.1L555.3,336.1L558.9,331.9M586.3,331.0L572.0,335.4M577.4,336.7L572.0,335.4L575.8,331.3M603.2,331.0L588.3,333.1M593.5,335.2L588.3,333.1L592.8,329.6M620.1,331.0L605.1,332.1M610.2,334.5L605.1,332.1L609.8,328.9M637.0,331.0L622.0,331.5M627.0,334.2L622.0,331.5L626.8,328.6M299.0,313.6L290.0,325.5M295.1,323.3L290.0,325.5L290.6,320.0M315.9,313.6L309.0,326.9M313.7,323.8L309.0,326.9L308.7,321.3M332.8,313.6L326.5,327.2M331.1,323.9L326.5,327.2L326.0,321.6M349.7,313.6L344.2,327.5M348.6,324.0L344.2,327.5L343.4,322.0M366.6,313.6L361.3,327.6M365.7,324.0L361.3,327.6L360.4,322.1M383.5,313.6L378.7,327.8M382.9,324.1L378.7,327.8L377.6,322.3M400.4,313.6L396.7,328.1M400.6,324.1L396.7,328.1L395.2,322.7M417.3,313.6L414.6,328.3M418.2,324.0L414.6,328.3L412.7,323.0M434.2,313.6L432.0,328.4M435.5,324.0L432.0,328.4L429.9,323.2M451.1,313.6L448.5,328.3M452.1,324.0L448.5,328.3L446.6,323.1M468.0,313.6L463.6,327.9M467.7,324.1L463.6,327.9L462.4,322.4M518.7,313.6L504.4,317.9M509.8,319.2L504.4,317.9L508.2,313.8M535.6,313.6L521.3,317.9M526.7,319.2L521.3,317.9L525.1,313.8M552.5,313.6L538.1,317.7M543.5,319.0L538.1,317.7L542.0,313.7M569.4,313.6L555.0,317.7M560.4,319.0L555.0,317.7L558.9,313.7M586.3,313.6L571.7,316.9M577.0,318.6L571.7,316.9L575.8,313.1M603.2,313.6L588.4,315.9M593.6,317.9L588.4,315.9L592.7,312.4M620.1,313.6L605.2,315.1M610.3,317.4L605.2,315.1L609.7,311.8M637.0,313.6L622.0,314.3M627.0,316.9L622.0,314.3L626.7,311.3M282.1,296.0L269.7,304.4M275.3,304.0L269.7,304.4L272.1,299.4M299.0,296.0L289.8,307.8M295.0,305.7L289.8,307.8L290.5,302.3M315.9,296.0L309.1,309.4M313.8,306.3L309.1,309.4L308.8,303.8M332.8,296.0L326.1,309.5M330.8,306.4L326.1,309.5L325.8,303.9M349.7,296.0L344.3,310.0M348.7,306.5L344.3,310.0L343.4,304.5M366.6,296.0L360.9,309.9M365.3,306.5L360.9,309.9L360.2,304.3M383.5,296.0L378.1,310.0M382.5,306.5L378.1,310.0L377.2,304.5M400.4,296.0L396.2,310.4M400.2,306.5L396.2,310.4L394.8,305.0M417.3,296.0L415.2,310.9M418.7,306.5L415.2,310.9L413.1,305.7M434.2,296.0L430.9,310.7M434.7,306.5L430.9,310.7L429.3,305.3M451.1,296.0L448.0,310.7M451.7,306.5L448.0,310.7L446.3,305.4M501.8,296.0L488.1,302.1M493.7,302.7L488.1,302.1L491.4,297.6M518.7,296.0L504.4,300.7M509.9,301.8L504.4,300.7L508.2,296.5M535.6,296.0L521.6,301.4M527.1,302.3L521.6,301.4L525.1,297.0M552.5,296.0L538.5,301.4M544.0,302.3L538.5,301.4L542.0,297.0M569.4,296.0L555.1,300.7M560.6,301.8L555.1,300.7L558.9,296.5M586.3,296.0L571.8,299.9M577.2,301.3L571.8,299.9L575.8,295.9M603.2,296.0L588.6,299.6M594.0,301.2L588.6,299.6L592.7,295.8M620.1,296.0L605.4,298.9M610.7,300.7L605.4,298.9L609.6,295.2M637.0,296.0L622.3,298.9M627.6,300.7L622.3,298.9L626.5,295.2M265.2,278.4L254.1,288.4M259.5,287.3L254.1,288.4L255.8,283.1M282.1,278.4L271.1,288.6M276.6,287.4L271.1,288.6L272.8,283.3M299.0,278.4L289.0,289.5M294.3,287.8L289.0,289.5L290.1,284.1M315.9,278.4L307.7,291.0M312.7,288.4L307.7,291.0L308.0,285.4M332.8,278.4L325.2,291.3M330.0,288.6L325.2,291.3L325.2,285.7M349.7,278.4L342.9,291.8M347.6,288.7L342.9,291.8L342.6,286.2M366.6,278.4L360.1,291.9M364.7,288.8L360.1,291.9L359.7,286.3M383.5,278.4L377.2,292.0M381.7,288.8L377.2,292.0L376.7,286.4M400.4,278.4L395.0,292.4M399.4,288.9L395.0,292.4L394.2,286.9M417.3,278.4L412.7,292.7M416.8,288.9L412.7,292.7L411.5,287.2M434.2,278.4L429.5,292.6M433.7,288.9L429.5,292.6L428.4,287.1M451.1,278.4L446.2,292.6M450.4,288.9L446.2,292.6L445.1,287.1M468.0,278.4L461.4,291.9M466.1,288.7L461.4,291.9L461.0,286.3M518.7,278.4L506.4,287.0M512.0,286.5L506.4,287.0L508.8,281.9M535.6,278.4L522.6,285.9M528.2,285.9L522.6,285.9L525.4,281.0M552.5,278.4L539.3,285.4M544.9,285.6L539.3,285.4L542.2,280.7M569.4,278.4L555.8,284.7M561.4,285.2L555.8,284.7L559.0,280.1M586.3,278.4L572.3,283.8M577.8,284.6L572.3,283.8L575.8,279.4M603.2,278.4L588.9,283.0M594.4,284.2L588.9,283.0L592.7,278.9M620.1,278.4L605.6,282.3M611.0,283.7L605.6,282.3L609.6,278.3M637.0,278.4L622.5,282.3M627.9,283.7L622.5,282.3L626.5,278.3M248.3,260.7L238.6,272.1M243.9,270.2L238.6,272.1L239.6,266.6M265.2,260.7L256.4,272.8M261.5,270.5L256.4,272.8L257.0,267.2M282.1,260.7L268.9,267.7M274.5,267.9L268.9,267.7L271.8,263.0M299.0,260.7L287.2,269.9M292.7,269.1L287.2,269.9L289.3,264.7M315.9,260.7L307.1,272.8M312.2,270.5L307.1,272.8L307.7,267.2M332.8,260.7L324.2,272.9M329.3,270.6L324.2,272.9L324.7,267.4M349.7,260.7L341.9,273.5M346.8,270.8L341.9,273.5L342.0,267.9M366.6,260.7L359.0,273.6M363.8,270.8L359.0,273.6L359.0,268.0M383.5,260.7L376.1,273.7M381.0,270.9L376.1,273.7L376.1,268.1M400.4,260.7L393.7,274.1M398.4,271.0L393.7,274.1L393.3,268.5M417.3,260.7L411.3,274.4M415.8,271.1L411.3,274.4L410.7,268.9M434.2,260.7L427.7,274.2M432.3,271.0L427.7,274.2L427.3,268.6M451.1,260.7L443.9,273.8M448.7,270.9L443.9,273.8L443.8,268.2M468.0,260.7L460.1,273.4M465.0,270.8L460.1,273.4L460.2,267.8M518.7,260.7L506.0,268.6M511.6,268.4L506.0,268.6L508.6,263.7M535.6,260.7L522.9,268.6M528.5,268.4L522.9,268.6L525.5,263.7M552.5,260.7L539.5,268.2M545.1,268.2L539.5,268.2L542.3,263.3M569.4,260.7L556.0,267.5M561.6,267.8L556.0,267.5L559.1,262.8M586.3,260.7L572.9,267.5M578.5,267.8L572.9,267.5L576.0,262.8M603.2,260.7L589.8,267.5M595.4,267.8L589.8,267.5L592.9,262.8M620.1,260.7L606.0,265.8M611.5,266.8L606.0,265.8L609.6,261.5M637.0,260.7L623.0,266.0M628.5,266.9L623.0,266.0L626.5,261.7M231.4,242.8L221.3,253.9M226.6,252.2L221.3,253.9L222.5,248.5M248.3,242.8L238.3,254.0M243.6,252.3L238.3,254.0L239.4,248.5M265.2,242.8L256.6,255.1M261.7,252.8L256.6,255.1L257.1,249.6M315.9,242.8L307.1,255.0M312.2,252.7L307.1,255.0L307.7,249.4M332.8,242.8L323.8,254.9M329.0,252.7L323.8,254.9L324.5,249.3M349.7,242.8L341.1,255.1M346.2,252.8L341.1,255.1L341.6,249.6M366.6,242.8L357.9,255.1M363.0,252.8L357.9,255.1L358.5,249.5M383.5,242.8L375.1,255.3M380.1,252.8L375.1,255.3L375.5,249.7M400.4,242.8L392.6,255.6M397.5,253.0L392.6,255.6L392.7,250.0M417.3,242.8L410.5,256.2M415.2,253.2L410.5,256.2L410.2,250.6M434.2,242.8L426.6,255.8M431.4,253.0L426.6,255.8L426.6,250.2M451.1,242.8L443.2,255.6M448.1,252.9L443.2,255.6L443.3,250.0M468.0,242.8L458.8,254.7M464.0,252.6L458.8,254.7L459.5,249.1M484.9,242.8L475.5,254.5M480.7,252.5L475.5,254.5L476.3,249.0M501.8,242.8L490.9,253.2M496.4,251.9L490.9,253.2L492.5,247.8M518.7,242.8L506.7,251.9M512.3,251.2L506.7,251.9L508.9,246.7M535.6,242.8L523.6,251.9M529.2,251.2L523.6,251.9L525.8,246.7M552.5,242.8L539.9,251.0M545.5,250.7L539.9,251.0L542.5,246.0M569.4,242.8L556.4,250.3M562.0,250.3L556.4,250.3L559.2,245.5M586.3,242.8L573.6,250.8M579.2,250.6L573.6,250.8L576.2,245.9M603.2,242.8L590.5,250.8M596.1,250.6L590.5,250.8L593.1,245.9M620.1,242.8L606.7,249.7M612.3,250.0L606.7,249.7L609.8,245.0M637.0,242.8L623.6,249.7M629.2,250.0L623.6,249.7L626.7,245.0M248.3,224.9L237.2,235.0M242.6,233.8L237.2,235.0L238.9,229.6M265.2,224.9L256.8,237.4M261.8,234.9L256.8,237.4L257.2,231.8M282.1,224.9L274.8,238.0M279.6,235.2L274.8,238.0L274.7,232.4M299.0,224.9L290.3,237.1M295.4,234.8L290.3,237.1L290.8,231.5M315.9,224.9L304.8,235.0M310.3,233.8L304.8,235.0L306.5,229.7M332.8,224.9L321.9,235.2M327.4,233.9L321.9,235.2L323.5,229.9M349.7,224.9L339.4,235.9M344.8,234.2L339.4,235.9L340.7,230.4M366.6,224.9L356.2,235.7M361.5,234.2L356.2,235.7L357.5,230.3M383.5,224.9L373.6,236.1M378.9,234.4L373.6,236.1L374.7,230.7M400.4,224.9L390.6,236.3M395.9,234.4L390.6,236.3L391.6,230.8M417.3,224.9L408.6,237.1M413.7,234.8L408.6,237.1L409.1,231.5M434.2,224.9L425.5,237.1M430.6,234.8L425.5,237.1L426.0,231.6M451.1,224.9L442.3,237.1M447.4,234.8L442.3,237.1L442.9,231.5M468.0,224.9L458.3,236.4M463.6,234.5L458.3,236.4L459.3,230.9M484.9,224.9L475.7,236.7M480.9,234.6L475.7,236.7L476.4,231.2M501.8,224.9L491.0,235.3M496.4,234.0L491.0,235.3L492.6,230.0M518.7,224.9L507.7,235.1M513.2,233.9L507.7,235.1L509.4,229.8M535.6,224.9L523.9,234.4M529.5,233.5L523.9,234.4L525.9,229.1M552.5,224.9L540.5,233.9M546.1,233.3L540.5,233.9L542.7,228.8M569.4,224.9L557.7,234.4M563.3,233.5L557.7,234.4L559.7,229.1M586.3,224.9L574.6,234.4M580.2,233.5L574.6,234.4L576.6,229.1M603.2,224.9L591.5,234.4M597.1,233.5L591.5,234.4L593.5,229.1M620.1,224.9L608.4,234.4M614.0,233.5L608.4,234.4L610.4,229.1M637.0,224.9L625.2,234.2M630.7,233.4L625.2,234.2L627.3,229.0M265.2,206.9L256.6,219.2M261.7,216.8L256.6,219.2L257.1,213.6M282.1,206.9L276.2,220.7M280.7,217.3L276.2,220.7L275.6,215.1M315.9,206.9L302.5,213.7M308.1,214.0L302.5,213.7L305.6,209.0M332.8,206.9L321.5,216.7M327.0,215.6L321.5,216.7L323.3,211.4M349.7,206.9L338.4,216.7M343.9,215.6L338.4,216.7L340.2,211.4M366.6,206.9L355.6,217.1M361.1,215.8L355.6,217.1L357.3,211.8M383.5,206.9L372.5,217.1M378.0,215.8L372.5,217.1L374.2,211.8M400.4,206.9L390.0,217.7M395.4,216.1L390.0,217.7L391.3,212.2M417.3,206.9L407.7,218.4M412.9,216.5L407.7,218.4L408.6,212.9M434.2,206.9L425.6,219.2M430.7,216.8L425.6,219.2L426.1,213.6M451.1,206.9L442.5,219.2M447.6,216.8L442.5,219.2L443.0,213.6M468.0,206.9L457.2,217.3M462.6,215.9L457.2,217.3L458.8,211.9M484.9,206.9L473.6,216.7M479.1,215.6L473.6,216.7L475.4,211.4M501.8,206.9L491.8,218.0M497.1,216.3L491.8,218.0L492.9,212.5M518.7,206.9L509.7,218.9M514.8,216.7L509.7,218.9L510.4,213.3M535.6,206.9L525.6,218.0M530.9,216.3L525.6,218.0L526.7,212.5M552.5,206.9L541.9,217.5M547.3,216.0L541.9,217.5L543.3,212.1M569.4,206.9L557.7,216.3M563.3,215.4L557.7,216.3L559.7,211.1M586.3,206.9L575.2,216.9M580.6,215.7L575.2,216.9L576.9,211.6M603.2,206.9L592.1,216.9M597.5,215.7L592.1,216.9L593.8,211.6M620.1,206.9L609.1,217.1M614.6,215.8L609.1,217.1L610.8,211.8M637.0,206.9L626.8,217.8M632.1,216.2L626.8,217.8L628.0,212.4M349.7,188.7L338.2,198.4M343.8,197.4L338.2,198.4L340.1,193.1M366.6,188.7L354.8,197.9M360.3,197.2L354.8,197.9L356.9,192.8M383.5,188.7L371.7,197.9M377.2,197.2L371.7,197.9L373.8,192.8M400.4,188.7L388.7,198.2M394.3,197.3L388.7,198.2L390.7,192.9M417.3,188.7L406.5,199.1M411.9,197.8L406.5,199.1L408.1,193.7M434.2,188.7L424.6,200.2M429.8,198.3L424.6,200.2L425.5,194.7M451.1,188.7L442.5,201.0M447.6,198.6L442.5,201.0L443.0,195.4M468.0,188.7L461.2,202.1M465.9,199.0L461.2,202.1L460.9,196.5M484.9,188.7L472.2,196.7M477.8,196.5L472.2,196.7L474.8,191.7M501.8,188.7L491.8,199.9M497.1,198.1L491.8,199.9L492.9,194.4M518.7,188.7L509.5,200.5M514.7,198.4L509.5,200.5L510.2,195.0M535.6,188.7L526.0,200.2M531.2,198.3L526.0,200.2L526.9,194.7M552.5,188.7L542.5,199.9M547.8,198.1L542.5,199.9L543.6,194.4M569.4,188.7L559.8,200.2M565.0,198.3L559.8,200.2L560.7,194.7M586.3,188.7L576.5,200.0M581.8,198.2L576.5,200.0L577.5,194.5M603.2,188.7L593.6,200.2M598.8,198.3L593.6,200.2L594.5,194.7M620.1,188.7L610.3,200.0M615.6,198.2L610.3,200.0L611.3,194.5M637.0,188.7L628.2,200.8M633.3,198.6L628.2,200.8L628.8,195.3M417.3,170.4L406.0,180.3M411.5,179.2L406.0,180.3L407.8,175.0M434.2,170.4L425.6,182.7M430.7,180.3L425.6,182.7L426.1,177.1M451.1,170.4L442.5,182.7M447.6,180.3L442.5,182.7L443.0,177.1M468.0,170.4L458.8,182.3M464.0,180.2L458.8,182.3L459.6,176.8M501.8,170.4L490.7,180.5M496.1,179.3L490.7,180.5L492.4,175.1M518.7,170.4L509.1,181.9M514.3,180.0L509.1,181.9L510.0,176.4M535.6,170.4L525.2,181.2M530.6,179.7L525.2,181.2L526.5,175.8M552.5,170.4L542.1,181.2M547.5,179.7L542.1,181.2L543.4,175.8M569.4,170.4L560.2,182.2M565.4,180.1L560.2,182.2L560.9,176.7M586.3,170.4L577.7,182.7M582.8,180.3L577.7,182.7L578.2,177.1M603.2,170.4L595.0,183.0M600.0,180.5L595.0,183.0L595.3,177.4M620.1,170.4L612.2,183.1M617.1,180.5L612.2,183.1L612.3,177.5M637.0,170.4L630.0,183.7M634.7,180.7L630.0,183.7L629.8,178.1M434.2,152.0L424.8,163.7M430.0,161.7L424.8,163.7L425.7,158.2M451.1,152.0L441.5,163.5M446.7,161.6L441.5,163.5L442.4,158.0M468.0,152.0L457.8,163.0M463.1,161.3L457.8,163.0L459.0,157.5M501.8,152.0L490.3,161.6M495.8,160.7L490.3,161.6L492.2,156.4M518.7,152.0L508.5,163.0M513.8,161.3L508.5,163.0L509.7,157.5M535.6,152.0L523.3,160.6M528.9,160.1L523.3,160.6L525.7,155.5M552.5,152.0L543.3,163.8M548.5,161.7L543.3,163.8L544.0,158.3M569.4,152.0L561.2,164.6M566.2,162.0L561.2,164.6L561.5,159.0M586.3,152.0L579.0,165.1M583.8,162.2L579.0,165.1L578.9,159.5M603.2,152.0L596.9,165.6M601.4,162.4L596.9,165.6L596.4,160.0M620.1,152.0L614.5,165.9M618.9,162.5L614.5,165.9L613.7,160.4M637.0,152.0L630.9,165.7M635.4,162.4L630.9,165.7L630.3,160.1M451.1,133.4L441.4,144.9M446.7,143.0L441.4,144.9L442.4,139.4M468.0,133.4L458.0,144.6M463.4,142.9L458.0,144.6L459.2,139.2M484.9,133.4L475.0,144.7M480.3,142.9L475.0,144.7L476.1,139.2M501.8,133.4L491.8,144.6M497.2,142.9L491.8,144.6L493.0,139.1M518.7,133.4L509.3,145.1M514.5,143.1L509.3,145.1L510.1,139.5M535.6,133.4L525.4,144.4M530.7,142.8L525.4,144.4L526.6,138.9M552.5,133.4L542.9,144.9M548.1,143.0L542.9,144.9L543.8,139.4M569.4,133.4L561.9,146.4M566.7,143.6L561.9,146.4L561.9,140.8M586.3,133.4L580.0,147.0M584.5,143.8L580.0,147.0L579.5,141.4M603.2,133.4L597.6,147.3M602.0,143.9L597.6,147.3L596.8,141.8M620.1,133.4L615.5,147.7M619.6,143.9L615.5,147.7L614.3,142.2M637.0,133.4L633.9,148.1M637.6,143.9L633.9,148.1L632.2,142.8M468.0,114.7L458.4,126.2M463.6,124.3L458.4,126.2L459.3,120.7M484.9,114.7L475.3,126.2M480.5,124.3L475.3,126.2L476.2,120.7M501.8,114.7L492.6,126.5M497.8,124.4L492.6,126.5L493.3,121.0M518.7,114.7L509.5,126.5M514.7,124.4L509.5,126.5L510.2,121.0M535.6,114.7L527.2,127.1M532.2,124.7L527.2,127.1L527.6,121.5M552.5,114.7L545.5,127.9M550.2,125.0L545.5,127.9L545.3,122.3M569.4,114.7L563.1,128.3M567.6,125.1L563.1,128.3L562.6,122.7M586.3,114.7L581.4,128.9M585.6,125.2L581.4,128.9L580.3,123.4M603.2,114.7L596.9,128.3M601.4,125.1L596.9,128.3L596.4,122.7M620.1,114.7L617.5,129.5M621.1,125.2L617.5,129.5L615.6,124.2M637.0,114.7L634.4,129.5M638.0,125.2L634.4,129.5L632.5,124.2M484.9,95.8L475.1,107.1M480.4,105.3L475.1,107.1L476.1,101.6M501.8,95.8L492.4,107.5M497.6,105.5L492.4,107.5L493.2,101.9M518.7,95.8L509.9,107.9M515.0,105.7L509.9,107.9L510.5,102.4M535.6,95.8L528.3,108.9M533.1,106.0L528.3,108.9L528.2,103.3M552.5,95.8L546.2,109.4M550.7,106.2L546.2,109.4L545.7,103.8M569.4,95.8L563.5,109.6M568.0,106.2L563.5,109.6L562.9,104.1M586.3,95.8L581.9,110.2M586.0,106.3L581.9,110.2L580.7,104.7M603.2,95.8L600.1,110.5M603.8,106.3L600.1,110.5L598.4,105.2M620.1,95.8L617.8,110.6M621.3,106.3L617.8,110.6L615.7,105.4M637.0,95.8L634.9,110.7M638.4,106.3L634.9,110.7L632.8,105.5M484.9,76.8L475.7,88.6M480.9,86.5L475.7,88.6L476.5,83.1M501.8,76.8L493.0,88.9M498.1,86.6L493.0,88.9L493.6,83.3M518.7,76.8L511.2,89.7M516.0,86.9L511.2,89.7L511.2,84.1M535.6,76.8L529.3,90.4M533.8,87.1L529.3,90.4L528.8,84.8M552.5,76.8L547.4,90.9M551.7,87.3L547.4,90.9L546.4,85.3M569.4,76.8L564.5,90.9M568.7,87.3L564.5,90.9L563.4,85.4M586.3,76.8L582.7,91.3M586.6,87.3L582.7,91.3L581.1,85.9M603.2,76.8L600.3,91.5M604.0,87.3L600.3,91.5L598.5,86.2M620.1,76.8L620.1,91.8M622.9,86.9L620.1,91.8L617.3,86.9M637.0,76.8L636.5,91.7M639.4,87.0L636.5,91.7L633.8,86.8M501.8,57.5L494.2,70.4M499.1,67.7L494.2,70.4L494.2,64.8M518.7,57.5L512.4,71.1M516.9,67.9L512.4,71.1L511.9,65.5M535.6,57.5L530.2,71.5M534.6,68.0L530.2,71.5L529.3,66.0M552.5,57.5L548.6,72.0M552.6,68.1L548.6,72.0L547.2,66.6M569.4,57.5L566.3,72.2M570.0,68.0L566.3,72.2L564.6,66.9M586.3,57.5L584.0,72.3M587.5,68.0L584.0,72.3L581.9,67.1M603.2,57.5L602.4,72.5M605.5,67.8L602.4,72.5L599.9,67.5M620.1,57.5L620.1,72.5M622.9,67.7L620.1,72.5L617.3,67.7M637.0,57.5L637.0,72.5M639.8,67.7L637.0,72.5L634.2,67.7M518.7,38.1L510.5,50.7M515.5,48.1L510.5,50.7L510.8,45.1M535.6,38.1L529.7,51.9M534.2,48.5L529.7,51.9L529.1,46.4M552.5,38.1L549.6,52.8M553.3,48.6L549.6,52.8L547.8,47.5M569.4,38.1L568.4,53.1M571.5,48.4L568.4,53.1L565.9,48.0M586.3,38.1L586.3,53.1M589.1,48.3L586.3,53.1L583.5,48.3M603.2,38.1L604.0,53.1M606.5,48.1L604.0,53.1L600.9,48.4M620.1,38.1L625.7,52.0M626.5,46.5L625.7,52.0L621.3,48.6M637.0,38.1L639.6,52.9M641.5,47.6L639.6,52.9L636.0,48.6" stroke="#000080" stroke-width="1" fill="none"/>
<path d="M130.5,38V570M214.5,38V570M299.5,38V570M383.5,38V570M468.5,38V570M552.5,38V570M637.5,38V570M113,485.5H637M113,400.5H637M113,314.5H637M113,225.5H637M113,133.5H637" stroke="#000" stroke-width="1" fill="none"/>
<path d="M502.1,37.9 L500.7,42.1 L495.0,47.9 L493.6,52.1 L498.6,56.4 L500.7,60.7 L496.4,65.0 L495.0,69.3 L489.3,70.7 L486.4,75.0 L480.7,77.9 L480.0,82.1 L476.4,87.9 L472.1,93.6 L469.3,97.9 L462.1,99.3 L460.7,103.6 L462.9,107.9 L461.4,113.6 L463.6,119.3 L461.4,120.0 L455.7,124.3 L451.4,128.6 L447.9,132.9 L444.3,135.7 L440.0,138.6 L434.3,141.4 L431.4,145.0 L432.9,147.9 L427.1,152.1 L422.9,155.0 L417.1,157.9 L410.7,161.4 L408.6,164.3 L409.3,169.3 L404.3,172.1 L398.6,173.6 L391.4,173.6 L385.7,174.3 L381.4,174.3 L377.1,177.9 L372.9,180.7 L369.3,183.6 L365.7,182.1 L363.6,177.9 L360.7,175.0 L360.0,170.0 L356.4,168.6 L357.1,173.6 L358.6,178.6 L360.0,183.6 L357.1,185.7 L354.3,184.3 L351.4,180.7 L348.6,180.0 L350.0,185.7 L347.9,190.0 L344.3,192.1 L340.0,190.7 L335.7,192.9 L331.4,193.6 L327.1,195.7 L322.9,197.1 L318.6,198.6 L314.3,200.0 L310.0,202.1 L307.1,200.7 L305.0,202.1 L304.3,206.4 L303.7,209.0 L305.2,212.5 L307.2,214.4 L308.2,217.4 L305.7,219.4 L301.7,219.9 L298.8,217.9 L296.8,213.9 L294.8,209.0 L293.6,207.1 L294.3,202.1 L297.9,200.0 L296.4,197.1 L292.1,193.6 L290.7,197.1 L286.4,199.3 L282.9,197.9 L280.0,193.6 L275.0,190.7 L272.1,194.3 L267.9,196.4 L263.6,196.4 L262.1,199.3 L259.3,202.1 L255.0,203.6 L254.3,207.1 L250.7,209.3 L246.4,208.6 L242.9,207.1 L242.9,211.4 L240.7,215.7 L239.3,220.0 L236.4,223.6 L232.1,225.0 L230.0,228.6 L228.6,234.3 L226.4,240.0 L225.7,244.3 L227.9,249.3 L231.4,252.9 L235.7,255.7 L238.6,260.0 L240.0,265.0 L243.6,268.6 L247.9,273.6 L251.4,278.6 L255.7,283.6 L260.7,287.9 L265.7,291.4 L270.0,295.0 L273.6,299.3 L276.4,303.6 L280.0,308.6 L282.1,313.6 L283.6,319.3 L285.0,325.0 L286.4,330.7 L287.9,336.4 L288.6,342.1 L289.3,344.3 L290.0,350.0 L287.1,355.7 L286.4,361.4 L286.4,367.1 L284.3,372.9 L280.7,377.1 L275.0,380.7 L269.3,383.6 L263.6,387.1 L257.9,390.0 L252.1,392.9 L247.9,395.0 L244.3,398.6 L242.1,402.1 L240.7,406.4 L236.4,410.0 L231.4,412.9 L226.4,415.0 L222.1,417.9 L219.3,420.7 L215.7,422.9 L212.1,423.6 L211.4,419.3 L212.1,412.9 L213.6,407.1 L215.0,402.9 L215.0,402.1 L215.0,399.3 L211.4,397.1 L207.1,395.0 L203.6,392.9 L199.3,391.4 L195.7,390.0 L192.9,387.9 L192.9,383.6 L190.7,380.7 L187.9,382.9 L187.9,387.1 L184.3,385.7 L182.1,382.1 L182.9,377.9 L180.7,372.9 L177.9,368.6 L174.3,364.3 L170.7,361.4 L167.1,357.9 L162.9,355.0 L157.9,354.3 L152.9,355.0 L147.1,354.3 L143.6,352.9 L143.6,348.6 L146.4,345.0 L147.1,340.7 L142.1,339.3 L136.4,340.0 L131.4,341.4 L129.7,344.3 L130.0,350.7 L130.0,359.3 L129.3,365.0 L126.4,369.3 L124.3,374.3 L122.9,379.3 L120.7,384.3 L119.3,389.3 L117.1,395.0 L116.4,400.7 L115.7,405.0 L117.9,409.3 L118.6,413.6 L123.6,412.9 L127.1,411.4 L128.6,415.7 L128.6,420.7 L130.7,425.0 L146.4,453.6 L151.4,454.3 L155.7,455.0 L159.3,459.3 L163.6,462.9 L167.1,465.7 L171.4,467.9 L175.0,472.1 L179.3,475.7 L182.9,480.0 L185.7,485.0 L187.9,490.7 L188.6,496.4 L187.9,502.1 L187.1,507.9 L187.9,513.6 L188.1,511.3 L190.2,518.4 L193.7,525.5 L196.6,532.6 L198.7,538.3 L200.1,543.2 L197.3,545.4 L193.7,546.8 L189.5,547.5 L185.9,544.6 L181.7,541.1 L176.7,537.6 L171.0,534.0 L165.4,530.5 L160.4,526.9 L155.4,523.4 L152.6,518.4 L149.7,511.3 L145.5,504.2 L142.6,497.1 L141.2,490.0 L139.3,486.4 L137.1,480.7 L136.4,473.6 L135.7,467.1 L133.6,462.1 L131.4,457.9 L128.6,453.6 L125.7,450.0 L122.9,445.0 L120.0,440.7 L117.1,436.4 L112.9,435.0 L106.0,435.0 L106.0,28.0 L502.1,28.0ZM286.8,228.3 L290.3,226.4 L294.8,225.4 L299.8,224.9 L304.7,224.4 L308.7,223.4 L311.2,222.9 L312.7,225.4 L315.7,226.4 L316.6,229.3 L315.2,232.3 L312.7,234.8 L310.7,238.8 L309.2,242.8 L307.2,246.7 L303.7,250.2 L300.3,252.7 L296.8,254.7 L292.8,256.7 L288.8,255.7 L284.9,254.7 L280.9,252.7 L277.9,250.7 L276.9,246.7 L276.4,242.3 L276.9,238.8 L279.9,235.3 L283.4,232.3ZM106.0,509.2 L117.1,511.3 L121.4,514.1 L125.6,517.7 L129.2,521.9 L131.3,526.2 L134.8,526.9 L137.7,531.2 L141.9,535.4 L144.8,537.6 L145.5,532.6 L148.3,532.6 L151.2,536.8 L154.0,540.4 L159.0,541.8 L163.9,543.9 L166.8,548.2 L169.6,552.5 L173.2,556.0 L178.1,557.4 L182.4,558.8 L187.4,561.0 L190.9,563.8 L193.7,567.4 L195.2,578.0 L124.2,578.0 L119.9,567.4 L115.7,563.8 L106.0,556.7 L106.0,556.7ZM285.7,578.0 L282.9,564.3 L280.7,558.6 L282.1,552.9 L283.6,547.1 L286.4,541.4 L290.0,537.1 L292.9,537.9 L295.0,540.7 L298.6,542.9 L302.9,541.4 L307.1,542.9 L311.4,544.3 L315.7,543.6 L318.6,540.7 L318.6,535.7 L320.7,531.4 L322.1,524.3 L326.4,522.1 L332.1,520.7 L337.9,520.0 L343.6,518.6 L349.3,517.9 L352.9,514.3 L356.4,510.7 L360.0,506.4 L363.6,502.1 L366.4,497.9 L367.9,493.6 L373.6,492.1 L377.9,489.3 L382.1,487.1 L370.0,492.9 L374.3,490.0 L378.6,487.1 L383.6,485.7 L387.1,482.9 L390.7,480.0 L394.3,477.1 L398.6,473.6 L402.1,468.6 L405.7,463.6 L409.3,460.0 L412.9,456.4 L413.6,452.9 L415.0,455.7 L417.1,457.9 L419.3,453.6 L420.7,452.9 L422.1,456.4 L425.0,459.3 L427.9,461.4 L428.6,465.7 L429.3,469.3 L432.9,471.4 L435.7,470.0 L438.6,472.1 L442.9,473.6 L446.4,476.4 L450.0,478.6 L454.3,479.3 L456.4,481.4 L454.3,483.6 L448.6,484.3 L442.9,485.0 L438.6,486.4 L437.9,489.3 L441.4,491.4 L445.0,494.3 L442.9,496.4 L437.9,496.4 L433.6,497.9 L430.0,497.1 L445.7,495.0 L440.7,496.4 L435.0,497.9 L430.7,495.7 L426.4,498.6 L425.0,502.9 L429.3,505.7 L430.7,510.0 L426.4,512.1 L423.6,515.7 L427.9,519.3 L430.7,522.9 L433.6,527.1 L436.4,530.7 L432.1,534.3 L434.3,538.6 L437.9,542.1 L441.4,545.7 L445.7,549.3 L450.0,552.9 L450.7,555.7 L446.4,557.1 L440.7,557.1 L435.0,557.1 L432.1,556.4 L430.0,558.6 L427.9,562.9 L426.4,567.1 L425.7,578.0ZM466.4,578.0 L467.1,564.3 L470.0,560.0 L472.9,557.1 L476.4,555.7 L480.0,552.9 L482.9,549.3 L486.4,548.6 L492.1,550.0 L496.4,552.1 L502.1,552.9 L507.9,553.6 L513.6,554.3 L519.3,555.0 L520.0,555.9 L526.2,556.6 L532.4,555.9 L538.6,553.6 L543.2,550.5 L547.1,546.6 L550.2,543.5 L554.1,541.9 L557.2,544.3 L554.8,548.1 L551.7,552.0 L548.6,556.6 L544.8,560.5 L539.4,563.6 L533.2,565.2 L527.0,564.4 L520.0,562.8 L519.3,562.9 L513.6,562.9 L507.9,562.9 L502.1,562.9 L496.4,563.6 L490.7,562.9 L485.0,562.9 L479.3,562.1 L475.0,562.9 L472.1,565.7 L470.7,578.0ZM607.5,531.1 L609.8,528.0 L612.9,526.5 L615.2,529.6 L614.5,533.4 L612.1,535.7 L609.0,535.7 L607.5,533.4ZM594.3,551.2 L595.1,545.0 L597.4,540.4 L599.7,536.5 L602.8,534.2 L604.4,538.1 L603.6,543.5 L602.8,548.1 L599.7,552.0 L596.6,553.6ZM599.0,559.0 L602.1,554.3 L605.2,550.5 L609.0,546.6 L612.9,544.3 L616.0,545.0 L616.8,548.9 L614.5,552.8 L610.6,555.9 L608.3,558.2 L611.4,560.5 L615.2,562.8 L617.6,565.2 L614.5,565.2 L609.8,563.6 L605.9,562.1 L603.6,565.2 L602.8,578.0 L599.7,578.0 L599.0,565.9 L596.6,562.1 L597.4,559.0ZM581.9,494.7 L583.8,495.5 L584.3,500.1 L583.5,506.3 L581.9,507.1 L581.2,501.7ZM560.6,507.9 L563.4,508.6 L564.1,511.7 L561.8,512.5 L560.3,510.2ZM494.3,128.9 L496.9,129.5 L499.6,131.1 L500.6,133.2 L500.1,136.8 L500.1,141.1 L499.1,144.7 L497.5,148.4 L495.9,152.1 L494.8,155.8 L494.3,160.0 L493.3,164.2 L491.7,168.4 L489.6,171.6 L487.5,174.7 L485.4,177.9 L484.3,181.1 L483.8,185.3 L483.3,188.4 L481.2,188.9 L480.1,185.8 L479.1,182.6 L476.4,180.5 L473.8,178.4 L472.2,175.3 L470.6,171.6 L470.1,167.4 L470.6,163.2 L471.2,158.9 L472.2,154.7 L474.3,150.5 L476.4,146.8 L479.1,143.2 L481.7,139.5 L484.3,135.8 L487.5,132.6 L491.2,130.5ZM477.9,252.1 L481.4,250.0 L485.7,250.0 L490.0,251.4 L494.3,253.6 L498.6,255.0 L502.9,254.3 L505.7,251.4 L506.7,255.7 L505.7,261.4 L505.7,267.1 L508.6,272.1 L510.7,277.1 L508.6,282.1 L506.4,287.1 L504.3,292.1 L500.7,295.0 L497.1,297.1 L495.0,301.4 L493.6,305.7 L493.2,305.0 L491.6,308.2 L492.1,312.4 L493.7,316.6 L495.3,320.8 L497.4,323.9 L500.0,326.6 L502.6,328.7 L505.3,330.3 L507.4,331.3 L508.4,328.7 L510.5,326.6 L513.7,326.1 L516.8,327.6 L518.9,330.3 L520.5,333.4 L523.2,334.5 L525.3,332.4 L528.4,332.9 L532.6,333.4 L534.2,335.0 L531.6,336.1 L528.4,336.6 L529.5,338.7 L531.6,341.8 L533.7,345.0 L535.8,347.1 L537.9,349.2 L537.4,351.3 L536.3,353.9 L535.3,351.3 L532.6,350.3 L529.5,349.2 L526.3,347.1 L523.2,344.5 L520.5,341.3 L517.4,338.2 L514.7,335.5 L511.6,333.4 L509.5,332.9 L510.5,335.5 L512.1,338.7 L512.6,342.4 L511.6,344.5 L510.5,341.3 L508.4,338.2 L505.3,336.1 L502.6,333.9 L499.5,332.9 L496.3,332.9 L493.7,334.5 L490.5,336.1 L487.9,336.6 L485.3,335.5 L482.6,333.4 L479.5,331.8 L478.9,328.7 L481.1,326.6 L483.7,325.0 L485.3,322.4 L484.2,319.2 L481.1,318.2 L478.4,319.2 L477.4,322.4 L475.8,319.7 L472.6,317.6 L470.5,315.5 L469.5,310.3 L468.4,305.0 L466.4,298.6 L465.7,293.6 L467.9,291.4 L470.7,293.6 L474.3,291.4 L474.3,285.7 L475.7,280.0 L476.4,274.3 L475.0,268.6 L476.4,262.9 L476.4,257.1ZM476.8,341.3 L480.5,340.3 L484.7,340.8 L488.4,342.4 L491.1,345.0 L493.2,348.2 L494.2,352.4 L493.7,356.1 L491.6,358.7 L488.9,361.3 L486.3,362.4 L484.7,359.7 L483.7,355.5 L482.1,351.3 L481.1,347.1 L478.9,344.5 L476.8,342.4ZM500.0,340.3 L502.6,339.7 L504.2,341.8 L503.2,344.5 L500.5,343.9 L499.5,341.8ZM500.5,313.9 L502.1,313.9 L502.6,316.6 L501.6,319.7 L500.5,317.6ZM537.4,332.4 L540.0,329.2 L541.6,331.3 L541.1,336.6 L538.4,337.1ZM502.1,355.5 L503.7,355.0 L504.2,358.7 L502.6,361.8 L501.6,359.7ZM509.5,357.6 L512.6,358.2 L513.7,360.3 L511.6,360.8ZM501.3,368.4 L504.5,369.5 L507.6,371.6 L510.8,373.7 L513.9,374.2 L517.6,373.7 L520.8,374.7 L521.3,377.9 L519.7,380.5 L517.1,383.2 L514.5,386.3 L512.9,389.5 L510.8,391.6 L508.7,389.5 L506.1,388.4 L503.4,390.5 L501.8,391.6 L501.3,387.4 L502.4,383.2 L503.4,378.9 L503.9,374.7 L502.9,371.6ZM524.5,356.8 L526.6,357.9 L528.7,360.5 L531.3,363.7 L534.5,366.8 L536.6,368.9 L535.0,368.9 L531.8,366.3 L528.7,363.7 L526.1,362.6 L523.9,364.7 L522.9,365.8 L523.4,362.1 L523.9,358.9ZM541.3,357.9 L544.5,356.8 L548.7,356.3 L552.9,355.8 L557.1,357.4 L559.2,360.5 L560.3,364.2 L559.7,367.9 L560.8,371.6 L562.4,375.3 L563.4,378.4 L560.3,380.5 L557.6,379.5 L555.5,376.8 L553.4,373.2 L552.4,370.0 L549.7,367.4 L546.6,364.7 L543.9,362.1 L541.8,360.0ZM543.4,374.7 L545.5,375.8 L547.6,376.8 L550.3,377.4 L552.4,378.9 L553.4,382.1 L553.9,386.3 L555.0,390.5 L556.1,394.7 L555.0,397.4 L552.4,397.9 L550.3,394.7 L549.2,390.5 L548.2,386.3 L546.6,383.2 L544.5,380.5 L542.9,377.9ZM520.8,384.2 L523.9,383.7 L526.6,385.3 L527.6,388.4 L526.6,392.6 L525.0,396.8 L523.4,401.1 L522.9,405.3 L523.1,404.8 L522.5,407.4 L523.1,412.0 L521.8,415.9 L519.2,415.9 L517.9,412.0 L514.6,409.4 L511.4,406.8 L509.4,402.9 L509.2,403.2 L511.3,402.1 L514.5,401.6 L517.1,400.0 L517.6,395.8 L518.2,391.6 L519.2,387.4ZM535.5,382.1 L536.6,384.2 L535.5,388.4 L533.4,392.6 L530.8,396.8 L528.7,401.1 L526.6,405.3 L527.7,402.9 L525.8,406.8 L524.5,404.8 L525.8,400.2 L526.1,401.1 L528.2,396.8 L530.8,392.6 L532.9,388.4 L534.5,384.2ZM535.0,402.1 L537.1,399.5 L540.3,398.4 L543.4,399.5 L545.0,401.6 L544.5,404.7 L541.8,406.3 L538.2,406.8 L535.5,405.8 L534.5,403.7ZM560.4,404.8 L563.1,406.8 L566.3,409.4 L569.6,412.0 L572.2,415.9 L574.2,420.5 L574.8,425.1 L576.2,430.3 L577.5,435.6 L579.4,440.8 L580.1,445.4 L578.8,449.3 L575.5,452.6 L573.5,457.2 L572.9,461.8 L571.6,456.5 L570.3,451.3 L568.3,447.4 L566.3,445.4 L564.4,447.4 L563.1,451.3 L561.1,454.6 L559.8,458.5 L561.8,461.1 L564.4,464.4 L565.0,467.6 L563.1,470.9 L560.4,474.2 L558.5,476.2 L556.5,472.2 L555.9,469.0 L552.6,470.9 L548.7,470.3 L544.7,468.3 L540.8,465.7 L538.2,462.4 L536.9,457.8 L536.9,452.6 L538.2,448.7 L540.2,445.4 L538.2,442.1 L534.9,440.2 L531.6,438.2 L528.4,438.8 L525.8,440.8 L524.5,444.1 L521.8,441.5 L519.2,440.2 L516.6,444.1 L514.6,440.2 L511.4,440.8 L508.7,443.4 L506.1,446.7 L504.8,450.6 L502.9,452.6 L501.3,450.0 L502.2,445.4 L504.2,440.8 L506.1,436.9 L509.4,434.3 L514.0,433.0 L517.9,432.3 L519.2,428.4 L521.2,425.8 L524.5,425.1 L527.1,423.8 L530.3,424.5 L532.3,427.1 L533.0,431.0 L531.0,434.3 L534.3,433.6 L538.2,431.6 L540.8,428.4 L542.8,425.8 L546.7,425.1 L549.3,423.1 L550.0,419.2 L553.2,419.2 L556.5,418.6 L559.1,416.6 L561.1,413.3 L560.4,408.7ZM500.9,457.8 L503.5,457.2 L504.8,459.8 L502.9,461.1 L500.9,460.4ZM458.8,386.9 L461.5,388.8 L461.9,391.5 L460.2,393.7 L455.6,397.6 L451.6,400.5 L448.8,403.6 L446.8,408.1 L444.1,412.0 L440.1,415.3 L436.2,418.0 L432.3,421.3 L428.4,424.6 L424.4,427.9 L421.3,430.7 L420.2,432.4 L423.5,430.5 L421.0,429.0 L420.2,426.5 L419.6,428.1 L423.5,423.5 L428.1,419.0 L432.7,414.4 L437.3,410.4 L441.8,406.5 L445.8,402.6 L448.4,398.0 L453.0,394.1 L456.6,389.8Z" fill="#c0c0c0" stroke="#000" stroke-width="1" stroke-linejoin="round"/>
<path d="M477.9,252.1 L481.4,250.0 L485.7,250.0 L490.0,251.4 L494.3,253.6 L498.6,255.0 L502.9,254.3 L505.7,251.4 L506.7,255.7 L505.7,261.4 L505.7,267.1 L508.6,272.1 L510.7,277.1 L508.6,282.1 L506.4,287.1 L504.3,292.1 L500.7,295.0 L497.1,297.1 L495.0,301.4 L493.6,305.7 L493.2,305.0 L491.6,308.2 L492.1,312.4 L493.7,316.6 L495.3,320.8 L497.4,323.9 L500.0,326.6 L502.6,328.7 L505.3,330.3 L507.4,331.3 L508.4,328.7 L510.5,326.6 L513.7,326.1 L516.8,327.6 L518.9,330.3 L520.5,333.4 L523.2,334.5 L525.3,332.4 L528.4,332.9 L532.6,333.4 L534.2,335.0 L531.6,336.1 L528.4,336.6 L529.5,338.7 L531.6,341.8 L533.7,345.0 L535.8,347.1 L537.9,349.2 L537.4,351.3 L536.3,353.9 L535.3,351.3 L532.6,350.3 L529.5,349.2 L526.3,347.1 L523.2,344.5 L520.5,341.3 L517.4,338.2 L514.7,335.5 L511.6,333.4 L509.5,332.9 L510.5,335.5 L512.1,338.7 L512.6,342.4 L511.6,344.5 L510.5,341.3 L508.4,338.2 L505.3,336.1 L502.6,333.9 L499.5,332.9 L496.3,332.9 L493.7,334.5 L490.5,336.1 L487.9,336.6 L485.3,335.5 L482.6,333.4 L479.5,331.8 L478.9,328.7 L481.1,326.6 L483.7,325.0 L485.3,322.4 L484.2,319.2 L481.1,318.2 L478.4,319.2 L477.4,322.4 L475.8,319.7 L472.6,317.6 L470.5,315.5 L469.5,310.3 L468.4,305.0 L466.4,298.6 L465.7,293.6 L467.9,291.4 L470.7,293.6 L474.3,291.4 L474.3,285.7 L475.7,280.0 L476.4,274.3 L475.0,268.6 L476.4,262.9 L476.4,257.1ZM476.8,341.3 L480.5,340.3 L484.7,340.8 L488.4,342.4 L491.1,345.0 L493.2,348.2 L494.2,352.4 L493.7,356.1 L491.6,358.7 L488.9,361.3 L486.3,362.4 L484.7,359.7 L483.7,355.5 L482.1,351.3 L481.1,347.1 L478.9,344.5 L476.8,342.4ZM501.3,368.4 L504.5,369.5 L507.6,371.6 L510.8,373.7 L513.9,374.2 L517.6,373.7 L520.8,374.7 L521.3,377.9 L519.7,380.5 L517.1,383.2 L514.5,386.3 L512.9,389.5 L510.8,391.6 L508.7,389.5 L506.1,388.4 L503.4,390.5 L501.8,391.6 L501.3,387.4 L502.4,383.2 L503.4,378.9 L503.9,374.7 L502.9,371.6ZM520.8,384.2 L523.9,383.7 L526.6,385.3 L527.6,388.4 L526.6,392.6 L525.0,396.8 L523.4,401.1 L522.9,405.3 L523.1,404.8 L522.5,407.4 L523.1,412.0 L521.8,415.9 L519.2,415.9 L517.9,412.0 L514.6,409.4 L511.4,406.8 L509.4,402.9 L509.2,403.2 L511.3,402.1 L514.5,401.6 L517.1,400.0 L517.6,395.8 L518.2,391.6 L519.2,387.4ZM535.5,382.1 L536.6,384.2 L535.5,388.4 L533.4,392.6 L530.8,396.8 L528.7,401.1 L526.6,405.3 L527.7,402.9 L525.8,406.8 L524.5,404.8 L525.8,400.2 L526.1,401.1 L528.2,396.8 L530.8,392.6 L532.9,388.4 L534.5,384.2ZM535.0,402.1 L537.1,399.5 L540.3,398.4 L543.4,399.5 L545.0,401.6 L544.5,404.7 L541.8,406.3 L538.2,406.8 L535.5,405.8 L534.5,403.7ZM543.4,374.7 L545.5,375.8 L547.6,376.8 L550.3,377.4 L552.4,378.9 L553.4,382.1 L553.9,386.3 L555.0,390.5 L556.1,394.7 L555.0,397.4 L552.4,397.9 L550.3,394.7 L549.2,390.5 L548.2,386.3 L546.6,383.2 L544.5,380.5 L542.9,377.9ZM541.3,357.9 L544.5,356.8 L548.7,356.3 L552.9,355.8 L557.1,357.4 L559.2,360.5 L560.3,364.2 L559.7,367.9 L560.8,371.6 L562.4,375.3 L563.4,378.4 L560.3,380.5 L557.6,379.5 L555.5,376.8 L553.4,373.2 L552.4,370.0 L549.7,367.4 L546.6,364.7 L543.9,362.1 L541.8,360.0ZM524.5,356.8 L526.6,357.9 L528.7,360.5 L531.3,363.7 L534.5,366.8 L536.6,368.9 L535.0,368.9 L531.8,366.3 L528.7,363.7 L526.1,362.6 L523.9,364.7 L522.9,365.8 L523.4,362.1 L523.9,358.9ZM560.4,404.8 L563.1,406.8 L566.3,409.4 L569.6,412.0 L572.2,415.9 L574.2,420.5 L574.8,425.1 L576.2,430.3 L577.5,435.6 L579.4,440.8 L580.1,445.4 L578.8,449.3 L575.5,452.6 L573.5,457.2 L572.9,461.8 L571.6,456.5 L570.3,451.3 L568.3,447.4 L566.3,445.4 L564.4,447.4 L563.1,451.3 L561.1,454.6 L559.8,458.5 L561.8,461.1 L564.4,464.4 L565.0,467.6 L563.1,470.9 L560.4,474.2 L558.5,476.2 L556.5,472.2 L555.9,469.0 L552.6,470.9 L548.7,470.3 L544.7,468.3 L540.8,465.7 L538.2,462.4 L536.9,457.8 L536.9,452.6 L538.2,448.7 L540.2,445.4 L538.2,442.1 L534.9,440.2 L531.6,438.2 L528.4,438.8 L525.8,440.8 L524.5,444.1 L521.8,441.5 L519.2,440.2 L516.6,444.1 L514.6,440.2 L511.4,440.8 L508.7,443.4 L506.1,446.7 L504.8,450.6 L502.9,452.6 L501.3,450.0 L502.2,445.4 L504.2,440.8 L506.1,436.9 L509.4,434.3 L514.0,433.0 L517.9,432.3 L519.2,428.4 L521.2,425.8 L524.5,425.1 L527.1,423.8 L530.3,424.5 L532.3,427.1 L533.0,431.0 L531.0,434.3 L534.3,433.6 L538.2,431.6 L540.8,428.4 L542.8,425.8 L546.7,425.1 L549.3,423.1 L550.0,419.2 L553.2,419.2 L556.5,418.6 L559.1,416.6 L561.1,413.3 L560.4,408.7ZM458.8,386.9 L461.5,388.8 L461.9,391.5 L460.2,393.7 L455.6,397.6 L451.6,400.5 L448.8,403.6 L446.8,408.1 L444.1,412.0 L440.1,415.3 L436.2,418.0 L432.3,421.3 L428.4,424.6 L424.4,427.9 L421.3,430.7 L420.2,432.4 L423.5,430.5 L421.0,429.0 L420.2,426.5 L419.6,428.1 L423.5,423.5 L428.1,419.0 L432.7,414.4 L437.3,410.4 L441.8,406.5 L445.8,402.6 L448.4,398.0 L453.0,394.1 L456.6,389.8ZM500.0,340.3 L502.6,339.7 L504.2,341.8 L503.2,344.5 L500.5,343.9 L499.5,341.8ZM502.1,355.5 L503.7,355.0 L504.2,358.7 L502.6,361.8 L501.6,359.7ZM509.5,357.6 L512.6,358.2 L513.7,360.3 L511.6,360.8ZM500.5,313.9 L502.1,313.9 L502.6,316.6 L501.6,319.7 L500.5,317.6ZM537.4,332.4 L540.0,329.2 L541.6,331.3 L541.1,336.6 L538.4,337.1ZM500.9,457.8 L503.5,457.2 L504.8,459.8 L502.9,461.1 L500.9,460.4Z" fill="none" stroke="#000" stroke-width="2" stroke-linejoin="round"/>
<path d="M113.0,168.0 L117.0,169.0 L121.0,170.0 L123.0,172.0 L120.0,174.0 L119.0,179.0 L117.0,183.0 L118.0,186.0 L124.0,187.0 L129.0,188.0 L131.0,192.0 L133.0,196.0 L135.0,199.0 L139.0,197.0 L143.0,196.0 L146.0,194.0 L150.0,193.6 L151.0,198.0M151.0,198.0 L148.0,203.0 L144.0,207.0 L140.0,211.0 L136.0,215.0 L133.0,217.0 L128.0,218.0 L122.0,220.0 L118.0,223.0 L113.0,226.0 L110.0,227.0M133.0,217.0 L136.0,220.0 L139.0,226.0 L138.0,232.0 L145.0,233.0 L151.0,234.0 L153.0,242.0 L149.0,250.0 L149.0,258.0 L146.0,267.0 L149.0,270.0 L156.0,266.0 L164.0,258.0 L168.0,259.0 L174.0,263.0 L178.0,262.0 L184.0,254.0 L190.0,253.0 L198.0,256.0 L202.0,262.0 L208.0,268.0 L210.0,280.0 L212.0,288.0 L218.0,294.0 L224.0,300.0M151.0,198.0 L155.0,202.0 L160.0,204.0 L158.0,198.0 L156.0,188.0 L158.0,181.0 L162.0,180.0 L167.0,181.0M167.0,181.0 L170.0,176.0 L174.0,175.0 L178.0,177.0 L184.0,178.0 L187.0,175.0 L192.0,177.0 L198.0,174.0 L204.0,175.0 L210.0,170.0 L213.0,168.0 L216.0,165.6 L222.0,165.2 L225.0,168.0 L230.0,171.0 L238.0,171.0 L244.0,176.0 L242.0,181.0 L244.0,188.0 L250.0,192.0 L258.0,195.0 L265.0,196.0M167.0,181.0 L170.0,186.0 L176.0,192.0 L179.0,193.0 L181.0,200.0 L182.0,208.0 L187.0,211.0 L194.0,212.0 L198.0,208.0 L204.0,210.0 L208.0,214.0 L206.0,217.0 L212.0,221.0 L214.0,225.0 L208.0,230.0 L200.0,232.0 L196.0,237.0 L204.0,242.0 L212.0,246.0 L218.0,250.0 L219.0,254.0 L225.0,259.0 L230.0,266.0 L236.0,272.0 L241.0,280.0 L244.0,288.0 L250.0,292.0 L256.0,296.0 L259.0,301.0 L260.0,309.3 L257.9,315.0 L258.0,318.0M258.0,318.0 L255.0,327.0 L257.0,335.0 L259.0,343.0 L257.0,353.0 L258.0,359.0 L250.0,363.0 L240.0,367.0 L232.0,370.0 L229.0,373.0 L230.0,379.0 L225.0,381.0 L220.0,383.0 L216.0,379.0 L214.0,385.0 L210.0,390.0 L206.0,395.0M258.0,318.0 L254.0,320.0 L246.0,323.0 L240.0,321.0 L232.0,323.0 L230.0,326.0 L219.0,327.0M219.0,327.0 L210.0,325.0 L200.0,325.0 L190.0,324.0 L182.0,325.0 L176.0,331.0 L170.0,339.0 L172.0,349.0 L176.0,359.0 L177.0,367.0M219.0,327.0 L222.0,325.0 L225.0,322.0 L226.0,313.0 L224.0,307.0 L226.0,301.0M113.0,331.0 L117.0,335.0 L117.0,347.0 L120.0,359.0 L124.0,369.0 L126.0,373.0 L122.0,377.0 L116.0,383.0 L113.0,387.0M133.6,457.9 L138.6,460.0 L143.6,460.7 L147.1,465.0 L148.6,469.3 L146.4,472.1 L150.0,474.3 L154.3,471.4 L158.6,470.7 L162.1,472.1 L165.0,467.9 L166.4,465.7M291.4,537.9 L293.6,542.9 L297.9,547.1 L302.1,551.4 L307.1,555.0 L310.7,555.7 L315.0,553.6 L320.7,552.9 L326.4,553.6 L332.1,552.1 L335.7,550.0 L337.1,545.7 L342.1,543.6 L347.9,544.3 L352.1,546.4 L357.1,547.9 L362.1,549.3 L366.4,546.4 L372.1,545.0 L376.4,545.7 L378.6,541.4 L381.4,537.1 L381.4,532.1 L385.0,530.0 L386.9,522.0 L392.2,517.8 L394.3,510.3 L393.3,501.9 L398.6,496.6 L407.0,496.6 L412.9,496.4 L418.6,496.4 L424.3,497.1 L427.1,499.3M370.0,492.9 L372.9,497.1 L377.1,501.4 L380.7,500.0 L381.4,494.3 L380.7,488.6M384.3,487.9 L385.0,492.9 L388.6,497.1 L387.9,491.4 L387.1,487.1M300.7,162.9 L303.6,160.0 L307.1,161.4 L312.9,163.6 L318.6,162.1 L322.9,161.4M229.3,400.0 L233.6,407.1 L236.4,408.6M233.6,397.1 L239.3,404.3 L240.7,406.4" stroke="#000" stroke-width="1" fill="none" stroke-linejoin="round"/>
<path d="M230.0,316.0 L230.0,331.0 L231.0,341.0 L232.0,351.0 L232.4,361.0M214.0,367.0 L219.0,366.0 L224.0,363.0" stroke="#000" stroke-width="1" fill="none" stroke-dasharray="3 2"/>
<path d="M502.1,37.9 L500.7,42.1 L495.0,47.9 L493.6,52.1 L498.6,56.4 L500.7,60.7 L496.4,65.0 L495.0,69.3 L489.3,70.7 L486.4,75.0 L480.7,77.9 L480.0,82.1 L476.4,87.9 L472.1,93.6 L469.3,97.9 L462.1,99.3 L460.7,103.6 L462.9,107.9 L461.4,113.6 L463.6,119.3 L461.4,120.0 L455.7,124.3 L451.4,128.6 L447.9,132.9 L444.3,135.7 L440.0,138.6 L434.3,141.4 L431.4,145.0 L432.9,147.9 L427.1,152.1 L422.9,155.0 L417.1,157.9 L410.7,161.4 L408.6,164.3 L409.3,169.3 L404.3,172.1 L398.6,173.6 L391.4,173.6 L385.7,174.3 L381.4,174.3 L377.1,177.9 L372.9,180.7 L369.3,183.6 L365.7,182.1 L363.6,177.9 L360.7,175.0 L360.0,170.0 L356.4,168.6 L357.1,173.6 L358.6,178.6 L360.0,183.6 L357.1,185.7 L354.3,184.3 L351.4,180.7 L348.6,180.0 L350.0,185.7 L347.9,190.0 L344.3,192.1 L340.0,190.7 L335.7,192.9" stroke="#000" stroke-width="3.2" fill="none" stroke-dasharray="4 1.5 7 2 2.5 1 9 2.5 3 1" stroke-linejoin="round" transform="translate(1,0.6)"/>
<path d="M502.1,37.9 L500.7,42.1 L495.0,47.9 L493.6,52.1 L498.6,56.4 L500.7,60.7 L496.4,65.0 L495.0,69.3 L489.3,70.7 L486.4,75.0 L480.7,77.9 L480.0,82.1 L476.4,87.9 L472.1,93.6 L469.3,97.9 L462.1,99.3 L460.7,103.6 L462.9,107.9 L461.4,113.6 L463.6,119.3 L461.4,120.0 L455.7,124.3 L451.4,128.6 L447.9,132.9 L444.3,135.7 L440.0,138.6 L434.3,141.4 L431.4,145.0 L432.9,147.9 L427.1,152.1 L422.9,155.0 L417.1,157.9 L410.7,161.4 L408.6,164.3 L409.3,169.3 L404.3,172.1 L398.6,173.6 L391.4,173.6 L385.7,174.3 L381.4,174.3 L377.1,177.9 L372.9,180.7 L369.3,183.6 L365.7,182.1 L363.6,177.9 L360.7,175.0 L360.0,170.0 L356.4,168.6 L357.1,173.6 L358.6,178.6 L360.0,183.6 L357.1,185.7 L354.3,184.3 L351.4,180.7 L348.6,180.0 L350.0,185.7 L347.9,190.0 L344.3,192.1 L340.0,190.7 L335.7,192.9" stroke="#000" stroke-width="1.6" fill="none" stroke-linejoin="round"/>
<path d="M263.6,196.4 L262.1,199.3 L259.3,202.1 L255.0,203.6 L254.3,207.1 L250.7,209.3 L246.4,208.6 L242.9,207.1" stroke="#000" stroke-width="2" fill="none"/>
<ellipse cx="461" cy="160" rx="2" ry="3.2" fill="#000" transform="rotate(10 461 160)"/>
<ellipse cx="459.5" cy="164.5" rx="1.5" ry="1.5" fill="#000" transform="rotate(0 459.5 164.5)"/>
<ellipse cx="462.5" cy="157" rx="1.2" ry="1.2" fill="#000" transform="rotate(0 462.5 157)"/>
<ellipse cx="532" cy="146" rx="3.5" ry="2.5" fill="#000" transform="rotate(0 532 146)"/>
<ellipse cx="539" cy="144" rx="2.5" ry="2" fill="#000" transform="rotate(0 539 144)"/>
<ellipse cx="518" cy="144" rx="1" ry="1" fill="#000" transform="rotate(0 518 144)"/>
<ellipse cx="557" cy="138" rx="2.5" ry="2.5" fill="#000" transform="rotate(0 557 138)"/>
<ellipse cx="545" cy="142" rx="1.2" ry="1" fill="#000" transform="rotate(0 545 142)"/>
<ellipse cx="603" cy="104" rx="7" ry="2.6" fill="#000" transform="rotate(-35 603 104)"/>
<ellipse cx="595" cy="108" rx="2.5" ry="1.2" fill="#000" transform="rotate(0 595 108)"/>
<ellipse cx="588" cy="110" rx="2" ry="1" fill="#000" transform="rotate(0 588 110)"/>
<ellipse cx="583" cy="108" rx="1.5" ry="1.2" fill="#000" transform="rotate(0 583 108)"/>
<ellipse cx="610" cy="96" rx="1.5" ry="1" fill="#000" transform="rotate(0 610 96)"/>
<ellipse cx="614" cy="92" rx="1.5" ry="1" fill="#000" transform="rotate(0 614 92)"/>
<ellipse cx="627" cy="71" rx="6" ry="2.5" fill="#000" transform="rotate(-35 627 71)"/>
<ellipse cx="618" cy="82" rx="2" ry="2" fill="#000" transform="rotate(0 618 82)"/>
<ellipse cx="620" cy="88" rx="1.2" ry="1" fill="#000" transform="rotate(0 620 88)"/>
<ellipse cx="608" cy="89" rx="1" ry="1" fill="#000" transform="rotate(0 608 89)"/>
<ellipse cx="631" cy="47" rx="1.2" ry="1" fill="#000" transform="rotate(0 631 47)"/>
<ellipse cx="634" cy="42" rx="1.2" ry="1" fill="#000" transform="rotate(0 634 42)"/>
<ellipse cx="627" cy="53" rx="1" ry="1" fill="#000" transform="rotate(0 627 53)"/>
<ellipse cx="624" cy="58" rx="1" ry="1" fill="#000" transform="rotate(0 624 58)"/>
<ellipse cx="636" cy="39" rx="1.2" ry="1" fill="#000" transform="rotate(0 636 39)"/>
<ellipse cx="494.5" cy="188" rx="1.2" ry="2.2" fill="#000" transform="rotate(20 494.5 188)"/>
<ellipse cx="500" cy="211" rx="2" ry="2" fill="#000" transform="rotate(-30 500 211)"/>
<ellipse cx="500" cy="218" rx="2" ry="1.5" fill="#000" transform="rotate(-30 500 218)"/>
<ellipse cx="501" cy="244" rx="2" ry="2" fill="#000" transform="rotate(0 501 244)"/>
<ellipse cx="490.5" cy="246" rx="1.5" ry="1.2" fill="#000" transform="rotate(0 490.5 246)"/>
<ellipse cx="235" cy="516" rx="4.5" ry="2.5" fill="#000" transform="rotate(-30 235 516)"/>
<ellipse cx="230" cy="519" rx="2" ry="1.5" fill="#000" transform="rotate(0 230 519)"/>
<ellipse cx="240" cy="512" rx="2" ry="2" fill="#000" transform="rotate(0 240 512)"/>
<ellipse cx="280" cy="521" rx="1.2" ry="1.5" fill="#000" transform="rotate(0 280 521)"/>
<ellipse cx="282.5" cy="528" rx="1.5" ry="1.2" fill="#000" transform="rotate(0 282.5 528)"/>
<ellipse cx="264.7" cy="490" rx="1.5" ry="1.2" fill="#000" transform="rotate(0 264.7 490)"/>
<ellipse cx="256" cy="553" rx="1.5" ry="1.2" fill="#000" transform="rotate(0 256 553)"/>
<ellipse cx="278" cy="557" rx="1.5" ry="1.2" fill="#000" transform="rotate(0 278 557)"/>
<ellipse cx="243.5" cy="422" rx="2.2" ry="1.5" fill="#000" transform="rotate(0 243.5 422)"/>
<ellipse cx="468" cy="363" rx="3" ry="2" fill="#000" transform="rotate(0 468 363)"/>
<ellipse cx="471.5" cy="366" rx="2.5" ry="2" fill="#000" transform="rotate(0 471.5 366)"/>
<ellipse cx="466" cy="367" rx="2" ry="2" fill="#000" transform="rotate(0 466 367)"/>
<ellipse cx="473" cy="370" rx="2" ry="1.5" fill="#000" transform="rotate(0 473 370)"/>
<ellipse cx="465" cy="361" rx="1.5" ry="2" fill="#000" transform="rotate(0 465 361)"/>
<ellipse cx="470" cy="360" rx="1.5" ry="1.2" fill="#000" transform="rotate(0 470 360)"/>
<ellipse cx="459" cy="381" rx="2.5" ry="3" fill="#000" transform="rotate(30 459 381)"/>
<ellipse cx="462" cy="384" rx="2" ry="2" fill="#000" transform="rotate(0 462 384)"/>
<ellipse cx="457" cy="385" rx="1.5" ry="2" fill="#000" transform="rotate(0 457 385)"/>
<ellipse cx="478" cy="378" rx="1" ry="1" fill="#000" transform="rotate(0 478 378)"/>
<ellipse cx="483" cy="383" rx="1" ry="1" fill="#000" transform="rotate(0 483 383)"/>
<ellipse cx="487" cy="390" rx="1.2" ry="1" fill="#000" transform="rotate(0 487 390)"/>
<ellipse cx="481" cy="392" rx="1" ry="1" fill="#000" transform="rotate(0 481 392)"/>
<ellipse cx="490" cy="380" rx="1" ry="1" fill="#000" transform="rotate(0 490 380)"/>
<ellipse cx="476" cy="386" rx="1" ry="1" fill="#000" transform="rotate(0 476 386)"/>
<ellipse cx="418.5" cy="434" rx="1.5" ry="3" fill="#000" transform="rotate(0 418.5 434)"/>
<ellipse cx="420.7" cy="447" rx="2" ry="1.5" fill="#000" transform="rotate(0 420.7 447)"/>
<ellipse cx="424" cy="450" rx="1.2" ry="1" fill="#000" transform="rotate(0 424 450)"/>
<ellipse cx="480" cy="473" rx="2" ry="1.5" fill="#000" transform="rotate(0 480 473)"/>
<ellipse cx="476" cy="477" rx="2" ry="1.2" fill="#000" transform="rotate(0 476 477)"/>
<ellipse cx="492" cy="464" rx="2" ry="1.5" fill="#000" transform="rotate(0 492 464)"/>
<ellipse cx="497" cy="461" rx="1.5" ry="1.2" fill="#000" transform="rotate(0 497 461)"/>
<ellipse cx="466" cy="485" rx="2" ry="1.2" fill="#000" transform="rotate(0 466 485)"/>
<ellipse cx="461" cy="487" rx="1.5" ry="1" fill="#000" transform="rotate(0 461 487)"/>
<ellipse cx="508" cy="455" rx="1.5" ry="1" fill="#000" transform="rotate(0 508 455)"/>
<ellipse cx="512" cy="452" rx="1.2" ry="1" fill="#000" transform="rotate(0 512 452)"/>
<ellipse cx="556" cy="399" rx="3" ry="4" fill="#000" transform="rotate(0 556 399)"/>
<ellipse cx="560" cy="394" rx="2" ry="3" fill="#000" transform="rotate(0 560 394)"/>
<ellipse cx="563" cy="403" rx="2" ry="3" fill="#000" transform="rotate(0 563 403)"/>
<ellipse cx="442" cy="474" rx="1.5" ry="1" fill="#000" transform="rotate(0 442 474)"/>
<ellipse cx="447" cy="470" rx="1.2" ry="1" fill="#000" transform="rotate(0 447 470)"/>
<ellipse cx="452" cy="476" rx="1.2" ry="1" fill="#000" transform="rotate(0 452 476)"/>
<ellipse cx="458" cy="468" rx="1.2" ry="1" fill="#000" transform="rotate(0 458 468)"/>
<ellipse cx="200" cy="552" rx="3" ry="2.5" fill="#000" transform="rotate(0 200 552)"/>
<ellipse cx="205" cy="557" rx="3.5" ry="3" fill="#000" transform="rotate(0 205 557)"/>
<ellipse cx="198" cy="560" rx="3" ry="2" fill="#000" transform="rotate(0 198 560)"/>
<ellipse cx="208" cy="563" rx="3" ry="3" fill="#000" transform="rotate(0 208 563)"/>
<ellipse cx="203" cy="566" rx="4" ry="2.5" fill="#000" transform="rotate(0 203 566)"/>
<ellipse cx="195" cy="566" rx="2" ry="2" fill="#000" transform="rotate(0 195 566)"/>
<ellipse cx="211" cy="568" rx="2" ry="1.5" fill="#000" transform="rotate(0 211 568)"/>
<ellipse cx="193" cy="556" rx="2" ry="1.5" fill="#000" transform="rotate(0 193 556)"/>
<ellipse cx="186" cy="545" rx="1.5" ry="1.2" fill="#000" transform="rotate(0 186 545)"/>
<ellipse cx="183" cy="549" rx="1.5" ry="1.2" fill="#000" transform="rotate(0 183 549)"/>
<ellipse cx="188" cy="553" rx="1.2" ry="1" fill="#000" transform="rotate(0 188 553)"/>
<ellipse cx="200.5" cy="523" rx="1.5" ry="2" fill="#000" transform="rotate(0 200.5 523)"/>
<ellipse cx="206" cy="529" rx="1.5" ry="1.5" fill="#000" transform="rotate(0 206 529)"/>
<ellipse cx="560.5" cy="512" rx="0.8" ry="0.8" fill="#000" transform="rotate(0 560.5 512)"/>
<ellipse cx="558.5" cy="519" rx="1.2" ry="1" fill="#000" transform="rotate(0 558.5 519)"/>
<ellipse cx="558" cy="526" rx="1.5" ry="1" fill="#000" transform="rotate(0 558 526)"/>
<ellipse cx="558" cy="531" rx="1" ry="1" fill="#000" transform="rotate(0 558 531)"/>
<ellipse cx="564" cy="483" rx="1" ry="1" fill="#000" transform="rotate(0 564 483)"/>
<ellipse cx="561" cy="490" rx="1" ry="1" fill="#000" transform="rotate(0 561 490)"/>
<ellipse cx="531" cy="399" rx="1.5" ry="1.5" fill="#000" transform="rotate(0 531 399)"/>
<ellipse cx="547" cy="400" rx="1.2" ry="1.2" fill="#000" transform="rotate(0 547 400)"/>
<ellipse cx="357" cy="355" rx="0.8" ry="0.8" fill="#000" transform="rotate(0 357 355)"/>
<ellipse cx="352" cy="366" rx="0.7" ry="0.7" fill="#000" transform="rotate(0 352 366)"/>
<ellipse cx="281" cy="392" rx="1" ry="1" fill="#000" transform="rotate(0 281 392)"/>
<ellipse cx="400" cy="432" rx="1" ry="1" fill="#000" transform="rotate(0 400 432)"/>
<ellipse cx="338" cy="418" rx="0.8" ry="0.8" fill="#000" transform="rotate(0 338 418)"/>
<ellipse cx="374" cy="396" rx="0.7" ry="0.7" fill="#000" transform="rotate(0 374 396)"/>
<ellipse cx="301" cy="280" rx="0.7" ry="0.7" fill="#000" transform="rotate(0 301 280)"/>
<ellipse cx="499" cy="47" rx="2.5" ry="2" fill="#000" transform="rotate(0 499 47)"/>
<ellipse cx="497" cy="52" rx="3" ry="2" fill="#000" transform="rotate(0 497 52)"/>
<ellipse cx="501.5" cy="56" rx="2.5" ry="2.5" fill="#000" transform="rotate(0 501.5 56)"/>
<ellipse cx="498" cy="60.5" rx="2.5" ry="2" fill="#000" transform="rotate(0 498 60.5)"/>
<ellipse cx="503" cy="50" rx="2" ry="1.5" fill="#000" transform="rotate(0 503 50)"/>
<ellipse cx="495" cy="57" rx="2" ry="1.5" fill="#000" transform="rotate(0 495 57)"/>
<ellipse cx="500" cy="64" rx="1.5" ry="2" fill="#000" transform="rotate(0 500 64)"/>
<ellipse cx="493" cy="67" rx="2" ry="1.5" fill="#000" transform="rotate(0 493 67)"/>
<ellipse cx="464" cy="100" rx="3" ry="2" fill="#000" transform="rotate(0 464 100)"/>
<ellipse cx="462.5" cy="106" rx="2.5" ry="3" fill="#000" transform="rotate(0 462.5 106)"/>
<ellipse cx="465.5" cy="111" rx="2.5" ry="2.5" fill="#000" transform="rotate(0 465.5 111)"/>
<ellipse cx="463.5" cy="116" rx="2.5" ry="2" fill="#000" transform="rotate(0 463.5 116)"/>
<ellipse cx="467" cy="104" rx="1.5" ry="1.5" fill="#000" transform="rotate(0 467 104)"/>
<ellipse cx="457" cy="124" rx="3" ry="2" fill="#000" transform="rotate(0 457 124)"/>
<ellipse cx="453" cy="127.5" rx="2.5" ry="1.8" fill="#000" transform="rotate(0 453 127.5)"/>
<ellipse cx="449" cy="131" rx="2.5" ry="1.8" fill="#000" transform="rotate(0 449 131)"/>
<ellipse cx="443" cy="137" rx="2.5" ry="1.5" fill="#000" transform="rotate(0 443 137)"/>
<ellipse cx="437" cy="143" rx="3" ry="1.5" fill="#000" transform="rotate(0 437 143)"/>
<ellipse cx="430" cy="149" rx="2.5" ry="1.5" fill="#000" transform="rotate(0 430 149)"/>
<ellipse cx="425" cy="154" rx="2.5" ry="1.5" fill="#000" transform="rotate(0 425 154)"/>
<ellipse cx="419" cy="159" rx="2.5" ry="1.8" fill="#000" transform="rotate(0 419 159)"/>
<ellipse cx="486" cy="71" rx="2" ry="2" fill="#000" transform="rotate(0 486 71)"/>
<ellipse cx="480" cy="80" rx="1.5" ry="2" fill="#000" transform="rotate(0 480 80)"/>
<ellipse cx="474" cy="90" rx="1.5" ry="1.5" fill="#000" transform="rotate(0 474 90)"/>
<ellipse cx="413" cy="164" rx="2" ry="1.5" fill="#000" transform="rotate(0 413 164)"/>
<ellipse cx="405" cy="168" rx="2" ry="1.5" fill="#000" transform="rotate(0 405 168)"/>
<ellipse cx="396" cy="171" rx="2.5" ry="1.5" fill="#000" transform="rotate(0 396 171)"/>
<ellipse cx="361" cy="178" rx="2" ry="2.5" fill="#000" transform="rotate(0 361 178)"/>
<ellipse cx="357" cy="183" rx="1.5" ry="2" fill="#000" transform="rotate(0 357 183)"/>
<ellipse cx="364" cy="186" rx="2" ry="2" fill="#000" transform="rotate(0 364 186)"/>
<ellipse cx="352" cy="190" rx="2" ry="1.5" fill="#000" transform="rotate(0 352 190)"/>
<ellipse cx="347" cy="191" rx="1.5" ry="1.5" fill="#000" transform="rotate(0 347 191)"/>
<ellipse cx="341" cy="193" rx="1.5" ry="1.2" fill="#000" transform="rotate(0 341 193)"/>
<ellipse cx="244" cy="207" rx="2.5" ry="1.6" fill="#000" transform="rotate(-20 244 207)"/>
<ellipse cx="249" cy="204.5" rx="2.5" ry="1.6" fill="#000" transform="rotate(-20 249 204.5)"/>
<ellipse cx="254" cy="201.5" rx="2.5" ry="1.5" fill="#000" transform="rotate(-25 254 201.5)"/>
<ellipse cx="258.5" cy="198.5" rx="2" ry="1.5" fill="#000" transform="rotate(-25 258.5 198.5)"/>
<ellipse cx="241" cy="209.5" rx="2" ry="1.5" fill="#000" transform="rotate(0 241 209.5)"/>
<ellipse cx="398" cy="40" rx="0.8" ry="0.8" fill="#000" transform="rotate(0 398 40)"/>
<ellipse cx="404" cy="39" rx="1.2" ry="0.7" fill="#000" transform="rotate(0 404 39)"/>
<ellipse cx="407" cy="42" rx="0.7" ry="1" fill="#000" transform="rotate(0 407 42)"/>
<ellipse cx="406" cy="49" rx="0.8" ry="0.8" fill="#000" transform="rotate(0 406 49)"/>
<ellipse cx="408.5" cy="55" rx="0.8" ry="0.8" fill="#000" transform="rotate(0 408.5 55)"/>
<ellipse cx="477" cy="47" rx="1.5" ry="0.8" fill="#000" transform="rotate(-20 477 47)"/>
<ellipse cx="424" cy="497" rx="2" ry="1.5" fill="#000" transform="rotate(0 424 497)"/>
<ellipse cx="428" cy="500.5" rx="2.5" ry="1.5" fill="#000" transform="rotate(0 428 500.5)"/>
<ellipse cx="422.5" cy="504" rx="2" ry="2" fill="#000" transform="rotate(0 422.5 504)"/>
<ellipse cx="426" cy="508.5" rx="2.5" ry="2" fill="#000" transform="rotate(0 426 508.5)"/>
<ellipse cx="423" cy="513" rx="2" ry="1.5" fill="#000" transform="rotate(0 423 513)"/>
<ellipse cx="428" cy="517" rx="2" ry="1.5" fill="#000" transform="rotate(0 428 517)"/>
<ellipse cx="431" cy="496" rx="1.5" ry="1.2" fill="#000" transform="rotate(0 431 496)"/>
<ellipse cx="434" cy="522" rx="1.5" ry="1.2" fill="#000" transform="rotate(0 434 522)"/>
<ellipse cx="421" cy="520" rx="1.5" ry="2" fill="#000" transform="rotate(0 421 520)"/>
<ellipse cx="268.3" cy="503" rx="2.3" ry="3.3" fill="#c0c0c0" stroke="#000" stroke-width="1" transform="rotate(20 268.3 503)"/>
<ellipse cx="502.5" cy="459" rx="2.5" ry="1.8" fill="#c0c0c0" stroke="#000" stroke-width="1" transform="rotate(0 502.5 459)"/>
<ellipse cx="486" cy="468.5" rx="3.2" ry="1.8" fill="#c0c0c0" stroke="#000" stroke-width="1" transform="rotate(-25 486 468.5)"/>
<ellipse cx="471" cy="481.5" rx="3" ry="1.8" fill="#c0c0c0" stroke="#000" stroke-width="1" transform="rotate(-30 471 481.5)"/>
<ellipse cx="492" cy="465" rx="2" ry="1.3" fill="#c0c0c0" stroke="#000" stroke-width="1" transform="rotate(-20 492 465)"/>
<ellipse cx="215" cy="422.5" rx="2.3" ry="1.2" fill="#c0c0c0" stroke="#000" stroke-width="1" transform="rotate(-20 215 422.5)"/>
<ellipse cx="603.5" cy="103.5" rx="4.5" ry="1.0" fill="#c0c0c0" stroke="#000" stroke-width="1" transform="rotate(-35 603.5 103.5)"/>
<ellipse cx="627.5" cy="70.5" rx="3.5" ry="1.0" fill="#c0c0c0" stroke="#000" stroke-width="1" transform="rotate(-35 627.5 70.5)"/>
<ellipse cx="493" cy="237.5" rx="1.6" ry="1.4" fill="#c0c0c0" stroke="#000" stroke-width="1" transform="rotate(0 493 237.5)"/>
<ellipse cx="501.5" cy="233.5" rx="1.2" ry="1.2" fill="#c0c0c0" stroke="#000" stroke-width="1" transform="rotate(0 501.5 233.5)"/>
<ellipse cx="156" cy="536" rx="3.5" ry="2" fill="#c0c0c0" stroke="#000" stroke-width="1" transform="rotate(-40 156 536)"/>
<ellipse cx="170" cy="550" rx="4" ry="1.8" fill="#c0c0c0" stroke="#000" stroke-width="1" transform="rotate(35 170 550)"/>
<ellipse cx="179" cy="557" rx="4" ry="1.8" fill="#c0c0c0" stroke="#000" stroke-width="1" transform="rotate(35 179 557)"/>
</g>
<g shape-rendering="crispEdges">
<rect x="112" y="37" width="526" height="534" fill="none" stroke="#000" stroke-width="2"/>
<path d="M130.5,38v5M130.5,570v-5M163.5,38v5M163.5,570v-5M197.5,38v5M197.5,570v-5M231.5,38v5M231.5,570v-5M265.5,38v5M265.5,570v-5M299.5,38v5M299.5,570v-5M332.5,38v5M332.5,570v-5M366.5,38v5M366.5,570v-5M400.5,38v5M400.5,570v-5M434.5,38v5M434.5,570v-5M468.5,38v5M468.5,570v-5M501.5,38v5M501.5,570v-5M535.5,38v5M535.5,570v-5M569.5,38v5M569.5,570v-5M603.5,38v5M603.5,570v-5M637.5,38v5M637.5,570v-5M113,536.5h5M637,536.5h-5M113,502.5h5M637,502.5h-5M113,468.5h5M637,468.5h-5M113,434.5h5M637,434.5h-5M113,400.5h5M637,400.5h-5M113,366.5h5M637,366.5h-5M113,331.5h5M637,331.5h-5M113,296.5h5M637,296.5h-5M113,261.5h5M637,261.5h-5M113,225.5h5M637,225.5h-5M113,189.5h5M637,189.5h-5M113,152.5h5M637,152.5h-5M113,115.5h5M637,115.5h-5M113,77.5h5M637,77.5h-5" stroke="#000" stroke-width="1" fill="none"/>
</g>
 <text x="375.5" y="19.5" font-size="13.5" letter-spacing="-0.25" text-anchor="middle" fill="#000050">Significant Wave Height with Wave Direction</text>
<text x="376" y="32" font-size="12" font-style="italic" text-anchor="middle" fill="#000050">Valid For Jan-22-2006 18:00 GMT</text>
<text x="134.0" y="588" font-size="11" font-style="italic" text-anchor="middle" fill="#000">100 E</text>
<text x="218.5" y="588" font-size="11" font-style="italic" text-anchor="middle" fill="#000">105 E</text>
<text x="303.0" y="588" font-size="11" font-style="italic" text-anchor="middle" fill="#000">110 E</text>
<text x="387.5" y="588" font-size="11" font-style="italic" text-anchor="middle" fill="#000">115 E</text>
<text x="472.0" y="588" font-size="11" font-style="italic" text-anchor="middle" fill="#000">120 E</text>
<text x="556.5" y="588" font-size="11" font-style="italic" text-anchor="middle" fill="#000">125 E</text>
<text x="641.0" y="588" font-size="11" font-style="italic" text-anchor="middle" fill="#000">130 E</text>
<text x="646" y="574.0" font-size="11" font-style="italic" fill="#000">0</text>
<text x="646" y="489.4" font-size="11" font-style="italic" fill="#000">5 N</text>
<text x="646" y="404.1" font-size="11" font-style="italic" fill="#000">10 N</text>
<text x="646" y="317.6" font-size="11" font-style="italic" fill="#000">15 N</text>
<text x="646" y="228.9" font-size="11" font-style="italic" fill="#000">20 N</text>
<text x="646" y="137.4" font-size="11" font-style="italic" fill="#000">25 N</text>
<text x="646" y="42.1" font-size="11" font-style="italic" fill="#000">30 N</text>
<text transform="translate(112.5,602) scale(1.58,1)" font-size="10" fill="#000050">oceanweather inc.</text>
<text x="522" y="599" font-size="8" font-weight="bold" font-style="italic" letter-spacing="-0.4" fill="#000050">Plotted at Jan 22, 2006 11:59 GMT</text>
<defs><linearGradient id="cb" x1="0" x2="1" y1="0" y2="0"><stop offset="0" stop-color="#0000ff"/><stop offset="0.25" stop-color="#00ffff"/><stop offset="0.5" stop-color="#00ff00"/><stop offset="0.75" stop-color="#ffff00"/><stop offset="1" stop-color="#ff0000"/></linearGradient></defs>
<rect x="255" y="629" width="242" height="13" fill="url(#cb)" shape-rendering="crispEdges"/>
<rect x="255" y="629" width="2" height="13" fill="#000" shape-rendering="crispEdges"/>
<text x="375.5" y="611" font-size="9.7" text-anchor="middle" fill="#000050">Significant Wave Height (Meters)</text>
<text x="375" y="661" font-size="9.7" text-anchor="middle" fill="#000050">Significant Wave Height (Feet)</text>
<text x="256.0" y="626" font-size="9" text-anchor="middle" fill="#000050">0</text>
<text x="276.1" y="626" font-size="9" text-anchor="middle" fill="#000050">1</text>
<text x="296.1" y="626" font-size="9" text-anchor="middle" fill="#000050">2</text>
<text x="316.1" y="626" font-size="9" text-anchor="middle" fill="#000050">3</text>
<text x="336.2" y="626" font-size="9" text-anchor="middle" fill="#000050">4</text>
<text x="356.2" y="626" font-size="9" text-anchor="middle" fill="#000050">5</text>
<text x="376.3" y="626" font-size="9" text-anchor="middle" fill="#000050">6</text>
<text x="396.4" y="626" font-size="9" text-anchor="middle" fill="#000050">7</text>
<text x="416.4" y="626" font-size="9" text-anchor="middle" fill="#000050">8</text>
<text x="436.5" y="626" font-size="9" text-anchor="middle" fill="#000050">9</text>
<text x="456.5" y="626" font-size="9" text-anchor="middle" fill="#000050">10</text>
<text x="476.6" y="626" font-size="9" text-anchor="middle" fill="#000050">11</text>
<text x="496.6" y="626" font-size="9" text-anchor="middle" fill="#000050">12</text>
<text x="256.0" y="650" font-size="9" text-anchor="middle" fill="#000050">0</text>
<text x="286.0" y="650" font-size="9" text-anchor="middle" fill="#000050">5</text>
<text x="316.0" y="650" font-size="9" text-anchor="middle" fill="#000050">10</text>
<text x="346.0" y="650" font-size="9" text-anchor="middle" fill="#000050">15</text>
<text x="376.0" y="650" font-size="9" text-anchor="middle" fill="#000050">20</text>
<text x="406.0" y="650" font-size="9" text-anchor="middle" fill="#000050">25</text>
<text x="436.0" y="650" font-size="9" text-anchor="middle" fill="#000050">30</text>
<text x="466.0" y="650" font-size="9" text-anchor="middle" fill="#000050">35</text>
<text x="496.0" y="650" font-size="9" text-anchor="middle" fill="#000050">40</text>
</svg></body></html>
